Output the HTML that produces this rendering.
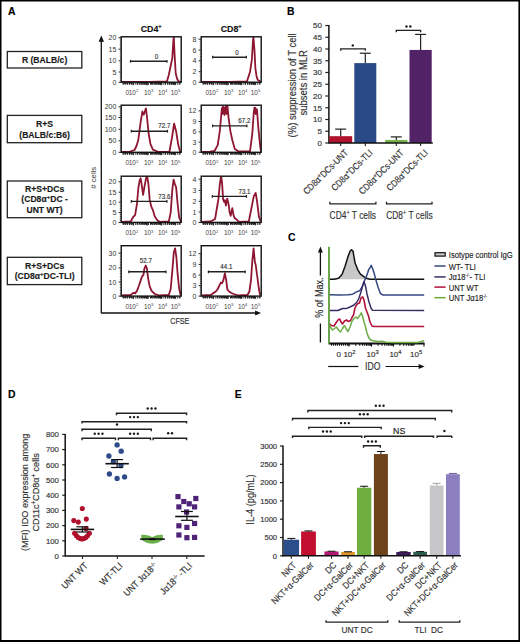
<!DOCTYPE html><html><head><meta charset="utf-8"><title>Figure</title>
<style>html,body{margin:0;padding:0;background:#fff;overflow:hidden}svg{display:block}text{font-family:"Liberation Sans",sans-serif;stroke:#333;stroke-width:0.16px;paint-order:stroke}text.ns{stroke:none}</style></head><body>
<svg width="520" height="642" viewBox="0 0 520 642">
<rect x="0" y="0" width="520" height="642" fill="#fff"/>
<path d="M0.7,0.7 H519.2 V640.8 H0.7 Z" fill="none" stroke="#000" stroke-width="1.6"/>
<line x1="0.00" y1="641.00" x2="520.00" y2="641.00" stroke="#000" stroke-width="2.2" />
<text x="8.00" y="14.60" font-size="10.4" text-anchor="start" font-weight="bold" fill="#000" >A</text>
<text x="287.00" y="15.20" font-size="10.4" text-anchor="start" font-weight="bold" fill="#000" >B</text>
<text x="288.00" y="241.30" font-size="10.4" text-anchor="start" font-weight="bold" fill="#000" >C</text>
<text x="8.00" y="398.20" font-size="10.4" text-anchor="start" font-weight="bold" fill="#000" >D</text>
<text x="234.80" y="398.30" font-size="10.4" text-anchor="start" font-weight="bold" fill="#000" >E</text>
<rect x="7.30" y="51.50" width="74.50" height="16.50" fill="none" stroke="#222" stroke-width="1.3" />
<text x="44.60" y="62.85" font-size="8.6" text-anchor="middle" font-weight="bold" fill="#1a1a1a" >R (BALB/c)</text>
<rect x="7.30" y="115.40" width="74.50" height="27.30" fill="none" stroke="#222" stroke-width="1.3" />
<text x="44.60" y="126.80" font-size="8.6" text-anchor="middle" font-weight="bold" fill="#1a1a1a" >R+S</text>
<text x="44.60" y="137.50" font-size="8.6" text-anchor="middle" font-weight="bold" fill="#1a1a1a" >(BALB/c:B6)</text>
<rect x="7.30" y="181.00" width="74.50" height="36.70" fill="none" stroke="#222" stroke-width="1.3" />
<text x="44.60" y="191.75" font-size="8.6" text-anchor="middle" font-weight="bold" fill="#1a1a1a" >R+S+DCs</text>
<text x="44.60" y="202.45" font-size="8.6" text-anchor="middle" font-weight="bold" fill="#1a1a1a" >(CD8&#945;<tspan font-size="6" dy="-3.3">+</tspan><tspan dy="3.3">DC -</tspan></text>
<text x="44.60" y="213.15" font-size="8.6" text-anchor="middle" font-weight="bold" fill="#1a1a1a" >UNT WT)</text>
<rect x="7.30" y="257.30" width="74.50" height="27.30" fill="none" stroke="#222" stroke-width="1.3" />
<text x="44.60" y="268.70" font-size="8.6" text-anchor="middle" font-weight="bold" fill="#1a1a1a" >R+S+DCs</text>
<text x="44.60" y="279.40" font-size="8.6" text-anchor="middle" font-weight="bold" fill="#1a1a1a" >(CD8&#945;<tspan font-size="6" dy="-3.3">+</tspan><tspan dy="3.3">DC-TLI)</tspan></text>
<clipPath id="cl00"><rect x="121.2" y="36.8" width="60" height="45.400000000000006"/></clipPath>
<polyline points="121.50,82.00 150.00,82.00 166.90,81.50 168.80,75.00 170.70,65.70 172.30,58.10 173.40,40.00 173.80,37.00 174.50,53.00 175.70,73.30 177.00,78.50 178.30,81.00 181.00,82.00" fill="none" stroke="#8e1631" stroke-width="1.8" stroke-linejoin="round" clip-path="url(#cl00)"/>
<rect x="121.20" y="36.80" width="60.00" height="45.40" fill="none" stroke="#111" stroke-width="1.4" />
<line x1="118.60" y1="37.70" x2="121.20" y2="37.70" stroke="#222" stroke-width="1.0" />
<text x="116.40" y="40.20" font-size="7" text-anchor="end" font-weight="normal" fill="#333" class="ns">20</text>
<line x1="118.60" y1="49.20" x2="121.20" y2="49.20" stroke="#222" stroke-width="1.0" />
<text x="116.40" y="51.70" font-size="7" text-anchor="end" font-weight="normal" fill="#333" class="ns">15</text>
<line x1="118.60" y1="60.80" x2="121.20" y2="60.80" stroke="#222" stroke-width="1.0" />
<text x="116.40" y="63.30" font-size="7" text-anchor="end" font-weight="normal" fill="#333" class="ns">10</text>
<line x1="118.60" y1="72.00" x2="121.20" y2="72.00" stroke="#222" stroke-width="1.0" />
<text x="116.40" y="74.50" font-size="7" text-anchor="end" font-weight="normal" fill="#333" class="ns">5</text>
<line x1="118.60" y1="82.30" x2="121.20" y2="82.30" stroke="#222" stroke-width="1.0" />
<text x="116.40" y="84.80" font-size="7" text-anchor="end" font-weight="normal" fill="#333" class="ns">0</text>
<line x1="119.80" y1="40.00" x2="121.20" y2="40.00" stroke="#333" stroke-width="0.8" />
<line x1="119.80" y1="42.30" x2="121.20" y2="42.30" stroke="#333" stroke-width="0.8" />
<line x1="119.80" y1="44.60" x2="121.20" y2="44.60" stroke="#333" stroke-width="0.8" />
<line x1="119.80" y1="46.90" x2="121.20" y2="46.90" stroke="#333" stroke-width="0.8" />
<line x1="119.80" y1="51.52" x2="121.20" y2="51.52" stroke="#333" stroke-width="0.8" />
<line x1="119.80" y1="53.84" x2="121.20" y2="53.84" stroke="#333" stroke-width="0.8" />
<line x1="119.80" y1="56.16" x2="121.20" y2="56.16" stroke="#333" stroke-width="0.8" />
<line x1="119.80" y1="58.48" x2="121.20" y2="58.48" stroke="#333" stroke-width="0.8" />
<line x1="119.80" y1="63.04" x2="121.20" y2="63.04" stroke="#333" stroke-width="0.8" />
<line x1="119.80" y1="65.28" x2="121.20" y2="65.28" stroke="#333" stroke-width="0.8" />
<line x1="119.80" y1="67.52" x2="121.20" y2="67.52" stroke="#333" stroke-width="0.8" />
<line x1="119.80" y1="69.76" x2="121.20" y2="69.76" stroke="#333" stroke-width="0.8" />
<line x1="119.80" y1="74.06" x2="121.20" y2="74.06" stroke="#333" stroke-width="0.8" />
<line x1="119.80" y1="76.12" x2="121.20" y2="76.12" stroke="#333" stroke-width="0.8" />
<line x1="119.80" y1="78.18" x2="121.20" y2="78.18" stroke="#333" stroke-width="0.8" />
<line x1="119.80" y1="80.24" x2="121.20" y2="80.24" stroke="#333" stroke-width="0.8" />
<line x1="133.20" y1="82.20" x2="133.20" y2="85.20" stroke="#111" stroke-width="1.1" />
<line x1="137.41" y1="82.20" x2="137.41" y2="84.40" stroke="#111" stroke-width="1.1" />
<line x1="139.88" y1="82.20" x2="139.88" y2="84.40" stroke="#111" stroke-width="1.1" />
<line x1="141.63" y1="82.20" x2="141.63" y2="84.40" stroke="#111" stroke-width="1.1" />
<line x1="142.99" y1="82.20" x2="142.99" y2="84.40" stroke="#111" stroke-width="1.1" />
<line x1="144.09" y1="82.20" x2="144.09" y2="84.40" stroke="#111" stroke-width="1.1" />
<line x1="145.03" y1="82.20" x2="145.03" y2="84.40" stroke="#111" stroke-width="1.1" />
<line x1="145.84" y1="82.20" x2="145.84" y2="84.40" stroke="#111" stroke-width="1.1" />
<line x1="146.56" y1="82.20" x2="146.56" y2="84.40" stroke="#111" stroke-width="1.1" />
<line x1="147.20" y1="82.20" x2="147.20" y2="85.20" stroke="#111" stroke-width="1.1" />
<line x1="151.41" y1="82.20" x2="151.41" y2="84.40" stroke="#111" stroke-width="1.1" />
<line x1="153.88" y1="82.20" x2="153.88" y2="84.40" stroke="#111" stroke-width="1.1" />
<line x1="155.63" y1="82.20" x2="155.63" y2="84.40" stroke="#111" stroke-width="1.1" />
<line x1="156.99" y1="82.20" x2="156.99" y2="84.40" stroke="#111" stroke-width="1.1" />
<line x1="158.09" y1="82.20" x2="158.09" y2="84.40" stroke="#111" stroke-width="1.1" />
<line x1="159.03" y1="82.20" x2="159.03" y2="84.40" stroke="#111" stroke-width="1.1" />
<line x1="159.84" y1="82.20" x2="159.84" y2="84.40" stroke="#111" stroke-width="1.1" />
<line x1="160.56" y1="82.20" x2="160.56" y2="84.40" stroke="#111" stroke-width="1.1" />
<line x1="161.20" y1="82.20" x2="161.20" y2="85.20" stroke="#111" stroke-width="1.1" />
<line x1="165.41" y1="82.20" x2="165.41" y2="84.40" stroke="#111" stroke-width="1.1" />
<line x1="167.88" y1="82.20" x2="167.88" y2="84.40" stroke="#111" stroke-width="1.1" />
<line x1="169.63" y1="82.20" x2="169.63" y2="84.40" stroke="#111" stroke-width="1.1" />
<line x1="170.99" y1="82.20" x2="170.99" y2="84.40" stroke="#111" stroke-width="1.1" />
<line x1="172.09" y1="82.20" x2="172.09" y2="84.40" stroke="#111" stroke-width="1.1" />
<line x1="173.03" y1="82.20" x2="173.03" y2="84.40" stroke="#111" stroke-width="1.1" />
<line x1="173.84" y1="82.20" x2="173.84" y2="84.40" stroke="#111" stroke-width="1.1" />
<line x1="174.56" y1="82.20" x2="174.56" y2="84.40" stroke="#111" stroke-width="1.1" />
<line x1="123.20" y1="82.20" x2="123.20" y2="84.20" stroke="#222" stroke-width="1.0" />
<line x1="124.70" y1="82.20" x2="124.70" y2="84.20" stroke="#222" stroke-width="1.0" />
<line x1="126.20" y1="82.20" x2="126.20" y2="84.20" stroke="#222" stroke-width="1.0" />
<line x1="127.70" y1="82.20" x2="127.70" y2="84.20" stroke="#222" stroke-width="1.0" />
<line x1="129.20" y1="82.20" x2="129.20" y2="84.20" stroke="#222" stroke-width="1.0" />
<line x1="130.70" y1="82.20" x2="130.70" y2="84.20" stroke="#222" stroke-width="1.0" />
<line x1="132.20" y1="82.20" x2="132.20" y2="84.20" stroke="#222" stroke-width="1.0" />
<line x1="175.20" y1="82.20" x2="175.20" y2="85.20" stroke="#222" stroke-width="1.0" />
<line x1="179.70" y1="82.20" x2="179.70" y2="84.20" stroke="#222" stroke-width="1.0" />
<text x="127.40" y="95.20" font-size="6.4" text-anchor="middle" font-weight="normal" fill="#444" class="ns">0</text>
<line x1="122.70" y1="83.60" x2="180.70" y2="83.60" stroke="#222" stroke-width="2.2" stroke-dasharray="1 1.1"/>
<text x="128.80" y="95.20" font-size="6.4" fill="#444" class="ns">10<tspan font-size="4.2" dy="-2.8">2</tspan></text>
<text x="144.00" y="95.20" font-size="6.4" fill="#444" class="ns">10<tspan font-size="4.2" dy="-2.8">3</tspan></text>
<text x="158.00" y="95.20" font-size="6.4" fill="#444" class="ns">10<tspan font-size="4.2" dy="-2.8">4</tspan></text>
<text x="170.80" y="95.20" font-size="6.4" fill="#444" class="ns">10<tspan font-size="4.2" dy="-2.8">5</tspan></text>
<line x1="130.50" y1="61.30" x2="167.00" y2="61.30" stroke="#222" stroke-width="1.4" />
<line x1="130.50" y1="59.90" x2="130.50" y2="62.70" stroke="#222" stroke-width="1.2" />
<line x1="167.00" y1="59.90" x2="167.00" y2="62.70" stroke="#222" stroke-width="1.2" />
<text font-size="7.4" fill="#333" text-anchor="middle" transform="translate(156.40 58.50) scale(0.84 1)">0</text>
<clipPath id="cl01"><rect x="201.2" y="36.8" width="60" height="45.400000000000006"/></clipPath>
<polyline points="201.50,82.00 230.00,82.00 246.90,81.50 250.00,72.00 251.90,59.40 253.00,40.00 253.40,37.00 254.50,50.50 255.40,68.30 256.50,76.00 257.60,79.70 261.00,82.00" fill="none" stroke="#8e1631" stroke-width="1.8" stroke-linejoin="round" clip-path="url(#cl01)"/>
<rect x="201.20" y="36.80" width="60.00" height="45.40" fill="none" stroke="#111" stroke-width="1.4" />
<line x1="198.60" y1="39.20" x2="201.20" y2="39.20" stroke="#222" stroke-width="1.0" />
<text x="196.40" y="41.70" font-size="7" text-anchor="end" font-weight="normal" fill="#333" class="ns">8</text>
<line x1="198.60" y1="50.10" x2="201.20" y2="50.10" stroke="#222" stroke-width="1.0" />
<text x="196.40" y="52.60" font-size="7" text-anchor="end" font-weight="normal" fill="#333" class="ns">6</text>
<line x1="198.60" y1="60.80" x2="201.20" y2="60.80" stroke="#222" stroke-width="1.0" />
<text x="196.40" y="63.30" font-size="7" text-anchor="end" font-weight="normal" fill="#333" class="ns">4</text>
<line x1="198.60" y1="71.70" x2="201.20" y2="71.70" stroke="#222" stroke-width="1.0" />
<text x="196.40" y="74.20" font-size="7" text-anchor="end" font-weight="normal" fill="#333" class="ns">2</text>
<line x1="198.60" y1="82.20" x2="201.20" y2="82.20" stroke="#222" stroke-width="1.0" />
<text x="196.40" y="84.70" font-size="7" text-anchor="end" font-weight="normal" fill="#333" class="ns">0</text>
<line x1="199.80" y1="41.38" x2="201.20" y2="41.38" stroke="#333" stroke-width="0.8" />
<line x1="199.80" y1="43.56" x2="201.20" y2="43.56" stroke="#333" stroke-width="0.8" />
<line x1="199.80" y1="45.74" x2="201.20" y2="45.74" stroke="#333" stroke-width="0.8" />
<line x1="199.80" y1="47.92" x2="201.20" y2="47.92" stroke="#333" stroke-width="0.8" />
<line x1="199.80" y1="52.24" x2="201.20" y2="52.24" stroke="#333" stroke-width="0.8" />
<line x1="199.80" y1="54.38" x2="201.20" y2="54.38" stroke="#333" stroke-width="0.8" />
<line x1="199.80" y1="56.52" x2="201.20" y2="56.52" stroke="#333" stroke-width="0.8" />
<line x1="199.80" y1="58.66" x2="201.20" y2="58.66" stroke="#333" stroke-width="0.8" />
<line x1="199.80" y1="62.98" x2="201.20" y2="62.98" stroke="#333" stroke-width="0.8" />
<line x1="199.80" y1="65.16" x2="201.20" y2="65.16" stroke="#333" stroke-width="0.8" />
<line x1="199.80" y1="67.34" x2="201.20" y2="67.34" stroke="#333" stroke-width="0.8" />
<line x1="199.80" y1="69.52" x2="201.20" y2="69.52" stroke="#333" stroke-width="0.8" />
<line x1="199.80" y1="73.80" x2="201.20" y2="73.80" stroke="#333" stroke-width="0.8" />
<line x1="199.80" y1="75.90" x2="201.20" y2="75.90" stroke="#333" stroke-width="0.8" />
<line x1="199.80" y1="78.00" x2="201.20" y2="78.00" stroke="#333" stroke-width="0.8" />
<line x1="199.80" y1="80.10" x2="201.20" y2="80.10" stroke="#333" stroke-width="0.8" />
<line x1="213.20" y1="82.20" x2="213.20" y2="85.20" stroke="#111" stroke-width="1.1" />
<line x1="217.41" y1="82.20" x2="217.41" y2="84.40" stroke="#111" stroke-width="1.1" />
<line x1="219.88" y1="82.20" x2="219.88" y2="84.40" stroke="#111" stroke-width="1.1" />
<line x1="221.63" y1="82.20" x2="221.63" y2="84.40" stroke="#111" stroke-width="1.1" />
<line x1="222.99" y1="82.20" x2="222.99" y2="84.40" stroke="#111" stroke-width="1.1" />
<line x1="224.09" y1="82.20" x2="224.09" y2="84.40" stroke="#111" stroke-width="1.1" />
<line x1="225.03" y1="82.20" x2="225.03" y2="84.40" stroke="#111" stroke-width="1.1" />
<line x1="225.84" y1="82.20" x2="225.84" y2="84.40" stroke="#111" stroke-width="1.1" />
<line x1="226.56" y1="82.20" x2="226.56" y2="84.40" stroke="#111" stroke-width="1.1" />
<line x1="227.20" y1="82.20" x2="227.20" y2="85.20" stroke="#111" stroke-width="1.1" />
<line x1="231.41" y1="82.20" x2="231.41" y2="84.40" stroke="#111" stroke-width="1.1" />
<line x1="233.88" y1="82.20" x2="233.88" y2="84.40" stroke="#111" stroke-width="1.1" />
<line x1="235.63" y1="82.20" x2="235.63" y2="84.40" stroke="#111" stroke-width="1.1" />
<line x1="236.99" y1="82.20" x2="236.99" y2="84.40" stroke="#111" stroke-width="1.1" />
<line x1="238.09" y1="82.20" x2="238.09" y2="84.40" stroke="#111" stroke-width="1.1" />
<line x1="239.03" y1="82.20" x2="239.03" y2="84.40" stroke="#111" stroke-width="1.1" />
<line x1="239.84" y1="82.20" x2="239.84" y2="84.40" stroke="#111" stroke-width="1.1" />
<line x1="240.56" y1="82.20" x2="240.56" y2="84.40" stroke="#111" stroke-width="1.1" />
<line x1="241.20" y1="82.20" x2="241.20" y2="85.20" stroke="#111" stroke-width="1.1" />
<line x1="245.41" y1="82.20" x2="245.41" y2="84.40" stroke="#111" stroke-width="1.1" />
<line x1="247.88" y1="82.20" x2="247.88" y2="84.40" stroke="#111" stroke-width="1.1" />
<line x1="249.63" y1="82.20" x2="249.63" y2="84.40" stroke="#111" stroke-width="1.1" />
<line x1="250.99" y1="82.20" x2="250.99" y2="84.40" stroke="#111" stroke-width="1.1" />
<line x1="252.09" y1="82.20" x2="252.09" y2="84.40" stroke="#111" stroke-width="1.1" />
<line x1="253.03" y1="82.20" x2="253.03" y2="84.40" stroke="#111" stroke-width="1.1" />
<line x1="253.84" y1="82.20" x2="253.84" y2="84.40" stroke="#111" stroke-width="1.1" />
<line x1="254.56" y1="82.20" x2="254.56" y2="84.40" stroke="#111" stroke-width="1.1" />
<line x1="203.20" y1="82.20" x2="203.20" y2="84.20" stroke="#222" stroke-width="1.0" />
<line x1="204.70" y1="82.20" x2="204.70" y2="84.20" stroke="#222" stroke-width="1.0" />
<line x1="206.20" y1="82.20" x2="206.20" y2="84.20" stroke="#222" stroke-width="1.0" />
<line x1="207.70" y1="82.20" x2="207.70" y2="84.20" stroke="#222" stroke-width="1.0" />
<line x1="209.20" y1="82.20" x2="209.20" y2="84.20" stroke="#222" stroke-width="1.0" />
<line x1="210.70" y1="82.20" x2="210.70" y2="84.20" stroke="#222" stroke-width="1.0" />
<line x1="212.20" y1="82.20" x2="212.20" y2="84.20" stroke="#222" stroke-width="1.0" />
<line x1="255.20" y1="82.20" x2="255.20" y2="85.20" stroke="#222" stroke-width="1.0" />
<line x1="259.70" y1="82.20" x2="259.70" y2="84.20" stroke="#222" stroke-width="1.0" />
<text x="207.40" y="95.20" font-size="6.4" text-anchor="middle" font-weight="normal" fill="#444" class="ns">0</text>
<line x1="202.70" y1="83.60" x2="260.70" y2="83.60" stroke="#222" stroke-width="2.2" stroke-dasharray="1 1.1"/>
<text x="208.80" y="95.20" font-size="6.4" fill="#444" class="ns">10<tspan font-size="4.2" dy="-2.8">2</tspan></text>
<text x="224.00" y="95.20" font-size="6.4" fill="#444" class="ns">10<tspan font-size="4.2" dy="-2.8">3</tspan></text>
<text x="238.00" y="95.20" font-size="6.4" fill="#444" class="ns">10<tspan font-size="4.2" dy="-2.8">4</tspan></text>
<text x="250.80" y="95.20" font-size="6.4" fill="#444" class="ns">10<tspan font-size="4.2" dy="-2.8">5</tspan></text>
<line x1="212.60" y1="57.20" x2="246.40" y2="57.20" stroke="#222" stroke-width="1.4" />
<line x1="212.60" y1="55.80" x2="212.60" y2="58.60" stroke="#222" stroke-width="1.2" />
<line x1="246.40" y1="55.80" x2="246.40" y2="58.60" stroke="#222" stroke-width="1.2" />
<text font-size="7.4" fill="#333" text-anchor="middle" transform="translate(237.00 54.50) scale(0.84 1)">0</text>
<clipPath id="cl10"><rect x="121.2" y="105.2" width="60" height="47.10000000000001"/></clipPath>
<polyline points="121.50,152.00 130.00,151.60 134.50,150.00 136.50,146.00 138.30,140.00 140.60,122.30 142.40,111.50 143.80,114.70 144.60,112.20 145.90,108.30 146.90,116.00 148.50,132.50 150.40,143.90 152.90,149.60 158.60,152.00 169.40,152.00 172.00,137.50 174.10,123.60 176.10,131.20 178.30,145.10 180.20,152.00" fill="none" stroke="#8e1631" stroke-width="1.8" stroke-linejoin="round" clip-path="url(#cl10)"/>
<rect x="121.20" y="105.20" width="60.00" height="47.10" fill="none" stroke="#111" stroke-width="1.4" />
<line x1="118.60" y1="106.80" x2="121.20" y2="106.80" stroke="#222" stroke-width="1.0" />
<text x="116.40" y="109.30" font-size="7" text-anchor="end" font-weight="normal" fill="#333" class="ns">200</text>
<line x1="118.60" y1="117.50" x2="121.20" y2="117.50" stroke="#222" stroke-width="1.0" />
<text x="116.40" y="120.00" font-size="7" text-anchor="end" font-weight="normal" fill="#333" class="ns">150</text>
<line x1="118.60" y1="129.30" x2="121.20" y2="129.30" stroke="#222" stroke-width="1.0" />
<text x="116.40" y="131.80" font-size="7" text-anchor="end" font-weight="normal" fill="#333" class="ns">100</text>
<line x1="118.60" y1="140.80" x2="121.20" y2="140.80" stroke="#222" stroke-width="1.0" />
<text x="116.40" y="143.30" font-size="7" text-anchor="end" font-weight="normal" fill="#333" class="ns">50</text>
<line x1="118.60" y1="152.30" x2="121.20" y2="152.30" stroke="#222" stroke-width="1.0" />
<text x="116.40" y="154.80" font-size="7" text-anchor="end" font-weight="normal" fill="#333" class="ns">0</text>
<line x1="119.80" y1="108.94" x2="121.20" y2="108.94" stroke="#333" stroke-width="0.8" />
<line x1="119.80" y1="111.08" x2="121.20" y2="111.08" stroke="#333" stroke-width="0.8" />
<line x1="119.80" y1="113.22" x2="121.20" y2="113.22" stroke="#333" stroke-width="0.8" />
<line x1="119.80" y1="115.36" x2="121.20" y2="115.36" stroke="#333" stroke-width="0.8" />
<line x1="119.80" y1="119.86" x2="121.20" y2="119.86" stroke="#333" stroke-width="0.8" />
<line x1="119.80" y1="122.22" x2="121.20" y2="122.22" stroke="#333" stroke-width="0.8" />
<line x1="119.80" y1="124.58" x2="121.20" y2="124.58" stroke="#333" stroke-width="0.8" />
<line x1="119.80" y1="126.94" x2="121.20" y2="126.94" stroke="#333" stroke-width="0.8" />
<line x1="119.80" y1="131.60" x2="121.20" y2="131.60" stroke="#333" stroke-width="0.8" />
<line x1="119.80" y1="133.90" x2="121.20" y2="133.90" stroke="#333" stroke-width="0.8" />
<line x1="119.80" y1="136.20" x2="121.20" y2="136.20" stroke="#333" stroke-width="0.8" />
<line x1="119.80" y1="138.50" x2="121.20" y2="138.50" stroke="#333" stroke-width="0.8" />
<line x1="119.80" y1="143.10" x2="121.20" y2="143.10" stroke="#333" stroke-width="0.8" />
<line x1="119.80" y1="145.40" x2="121.20" y2="145.40" stroke="#333" stroke-width="0.8" />
<line x1="119.80" y1="147.70" x2="121.20" y2="147.70" stroke="#333" stroke-width="0.8" />
<line x1="119.80" y1="150.00" x2="121.20" y2="150.00" stroke="#333" stroke-width="0.8" />
<line x1="133.20" y1="152.30" x2="133.20" y2="155.30" stroke="#111" stroke-width="1.1" />
<line x1="137.41" y1="152.30" x2="137.41" y2="154.50" stroke="#111" stroke-width="1.1" />
<line x1="139.88" y1="152.30" x2="139.88" y2="154.50" stroke="#111" stroke-width="1.1" />
<line x1="141.63" y1="152.30" x2="141.63" y2="154.50" stroke="#111" stroke-width="1.1" />
<line x1="142.99" y1="152.30" x2="142.99" y2="154.50" stroke="#111" stroke-width="1.1" />
<line x1="144.09" y1="152.30" x2="144.09" y2="154.50" stroke="#111" stroke-width="1.1" />
<line x1="145.03" y1="152.30" x2="145.03" y2="154.50" stroke="#111" stroke-width="1.1" />
<line x1="145.84" y1="152.30" x2="145.84" y2="154.50" stroke="#111" stroke-width="1.1" />
<line x1="146.56" y1="152.30" x2="146.56" y2="154.50" stroke="#111" stroke-width="1.1" />
<line x1="147.20" y1="152.30" x2="147.20" y2="155.30" stroke="#111" stroke-width="1.1" />
<line x1="151.41" y1="152.30" x2="151.41" y2="154.50" stroke="#111" stroke-width="1.1" />
<line x1="153.88" y1="152.30" x2="153.88" y2="154.50" stroke="#111" stroke-width="1.1" />
<line x1="155.63" y1="152.30" x2="155.63" y2="154.50" stroke="#111" stroke-width="1.1" />
<line x1="156.99" y1="152.30" x2="156.99" y2="154.50" stroke="#111" stroke-width="1.1" />
<line x1="158.09" y1="152.30" x2="158.09" y2="154.50" stroke="#111" stroke-width="1.1" />
<line x1="159.03" y1="152.30" x2="159.03" y2="154.50" stroke="#111" stroke-width="1.1" />
<line x1="159.84" y1="152.30" x2="159.84" y2="154.50" stroke="#111" stroke-width="1.1" />
<line x1="160.56" y1="152.30" x2="160.56" y2="154.50" stroke="#111" stroke-width="1.1" />
<line x1="161.20" y1="152.30" x2="161.20" y2="155.30" stroke="#111" stroke-width="1.1" />
<line x1="165.41" y1="152.30" x2="165.41" y2="154.50" stroke="#111" stroke-width="1.1" />
<line x1="167.88" y1="152.30" x2="167.88" y2="154.50" stroke="#111" stroke-width="1.1" />
<line x1="169.63" y1="152.30" x2="169.63" y2="154.50" stroke="#111" stroke-width="1.1" />
<line x1="170.99" y1="152.30" x2="170.99" y2="154.50" stroke="#111" stroke-width="1.1" />
<line x1="172.09" y1="152.30" x2="172.09" y2="154.50" stroke="#111" stroke-width="1.1" />
<line x1="173.03" y1="152.30" x2="173.03" y2="154.50" stroke="#111" stroke-width="1.1" />
<line x1="173.84" y1="152.30" x2="173.84" y2="154.50" stroke="#111" stroke-width="1.1" />
<line x1="174.56" y1="152.30" x2="174.56" y2="154.50" stroke="#111" stroke-width="1.1" />
<line x1="123.20" y1="152.30" x2="123.20" y2="154.30" stroke="#222" stroke-width="1.0" />
<line x1="124.70" y1="152.30" x2="124.70" y2="154.30" stroke="#222" stroke-width="1.0" />
<line x1="126.20" y1="152.30" x2="126.20" y2="154.30" stroke="#222" stroke-width="1.0" />
<line x1="127.70" y1="152.30" x2="127.70" y2="154.30" stroke="#222" stroke-width="1.0" />
<line x1="129.20" y1="152.30" x2="129.20" y2="154.30" stroke="#222" stroke-width="1.0" />
<line x1="130.70" y1="152.30" x2="130.70" y2="154.30" stroke="#222" stroke-width="1.0" />
<line x1="132.20" y1="152.30" x2="132.20" y2="154.30" stroke="#222" stroke-width="1.0" />
<line x1="175.20" y1="152.30" x2="175.20" y2="155.30" stroke="#222" stroke-width="1.0" />
<line x1="179.70" y1="152.30" x2="179.70" y2="154.30" stroke="#222" stroke-width="1.0" />
<text x="127.40" y="165.30" font-size="6.4" text-anchor="middle" font-weight="normal" fill="#444" class="ns">0</text>
<line x1="122.70" y1="153.70" x2="180.70" y2="153.70" stroke="#222" stroke-width="2.2" stroke-dasharray="1 1.1"/>
<text x="128.80" y="165.30" font-size="6.4" fill="#444" class="ns">10<tspan font-size="4.2" dy="-2.8">2</tspan></text>
<text x="144.00" y="165.30" font-size="6.4" fill="#444" class="ns">10<tspan font-size="4.2" dy="-2.8">3</tspan></text>
<text x="158.00" y="165.30" font-size="6.4" fill="#444" class="ns">10<tspan font-size="4.2" dy="-2.8">4</tspan></text>
<text x="170.80" y="165.30" font-size="6.4" fill="#444" class="ns">10<tspan font-size="4.2" dy="-2.8">5</tspan></text>
<line x1="131.30" y1="131.20" x2="167.50" y2="131.20" stroke="#222" stroke-width="1.4" />
<line x1="131.30" y1="129.80" x2="131.30" y2="132.60" stroke="#222" stroke-width="1.2" />
<line x1="167.50" y1="129.80" x2="167.50" y2="132.60" stroke="#222" stroke-width="1.2" />
<text font-size="7.4" fill="#333" text-anchor="middle" transform="translate(164.40 128.20) scale(0.84 1)">72.7</text>
<clipPath id="cl11"><rect x="201.2" y="105.2" width="60" height="47.10000000000001"/></clipPath>
<polyline points="201.50,152.00 210.00,151.60 214.50,151.00 217.70,145.10 219.80,131.20 221.00,118.00 221.50,112.00 222.00,108.00 222.50,114.00 223.00,106.50 223.50,113.00 224.00,108.00 224.50,115.00 225.00,107.50 225.50,112.00 226.00,106.00 226.50,114.00 227.00,105.00 227.40,105.00 228.00,112.00 228.50,117.20 230.40,131.20 232.30,140.00 234.80,149.00 238.60,151.50 250.00,151.50 252.30,133.70 253.80,112.00 254.50,107.70 255.00,113.00 255.40,108.00 255.80,114.00 256.20,109.00 256.60,112.00 257.00,109.60 257.60,118.00 258.30,127.40 260.20,146.40 261.00,151.50" fill="none" stroke="#8e1631" stroke-width="1.8" stroke-linejoin="round" clip-path="url(#cl11)"/>
<rect x="201.20" y="105.20" width="60.00" height="47.10" fill="none" stroke="#111" stroke-width="1.4" />
<line x1="198.60" y1="110.90" x2="201.20" y2="110.90" stroke="#222" stroke-width="1.0" />
<text x="196.40" y="113.40" font-size="7" text-anchor="end" font-weight="normal" fill="#333" class="ns">12</text>
<line x1="198.60" y1="121.50" x2="201.20" y2="121.50" stroke="#222" stroke-width="1.0" />
<text x="196.40" y="124.00" font-size="7" text-anchor="end" font-weight="normal" fill="#333" class="ns">9</text>
<line x1="198.60" y1="131.90" x2="201.20" y2="131.90" stroke="#222" stroke-width="1.0" />
<text x="196.40" y="134.40" font-size="7" text-anchor="end" font-weight="normal" fill="#333" class="ns">6</text>
<line x1="198.60" y1="142.20" x2="201.20" y2="142.20" stroke="#222" stroke-width="1.0" />
<text x="196.40" y="144.70" font-size="7" text-anchor="end" font-weight="normal" fill="#333" class="ns">3</text>
<line x1="198.60" y1="152.20" x2="201.20" y2="152.20" stroke="#222" stroke-width="1.0" />
<text x="196.40" y="154.70" font-size="7" text-anchor="end" font-weight="normal" fill="#333" class="ns">0</text>
<line x1="199.80" y1="113.02" x2="201.20" y2="113.02" stroke="#333" stroke-width="0.8" />
<line x1="199.80" y1="115.14" x2="201.20" y2="115.14" stroke="#333" stroke-width="0.8" />
<line x1="199.80" y1="117.26" x2="201.20" y2="117.26" stroke="#333" stroke-width="0.8" />
<line x1="199.80" y1="119.38" x2="201.20" y2="119.38" stroke="#333" stroke-width="0.8" />
<line x1="199.80" y1="123.58" x2="201.20" y2="123.58" stroke="#333" stroke-width="0.8" />
<line x1="199.80" y1="125.66" x2="201.20" y2="125.66" stroke="#333" stroke-width="0.8" />
<line x1="199.80" y1="127.74" x2="201.20" y2="127.74" stroke="#333" stroke-width="0.8" />
<line x1="199.80" y1="129.82" x2="201.20" y2="129.82" stroke="#333" stroke-width="0.8" />
<line x1="199.80" y1="133.96" x2="201.20" y2="133.96" stroke="#333" stroke-width="0.8" />
<line x1="199.80" y1="136.02" x2="201.20" y2="136.02" stroke="#333" stroke-width="0.8" />
<line x1="199.80" y1="138.08" x2="201.20" y2="138.08" stroke="#333" stroke-width="0.8" />
<line x1="199.80" y1="140.14" x2="201.20" y2="140.14" stroke="#333" stroke-width="0.8" />
<line x1="199.80" y1="144.20" x2="201.20" y2="144.20" stroke="#333" stroke-width="0.8" />
<line x1="199.80" y1="146.20" x2="201.20" y2="146.20" stroke="#333" stroke-width="0.8" />
<line x1="199.80" y1="148.20" x2="201.20" y2="148.20" stroke="#333" stroke-width="0.8" />
<line x1="199.80" y1="150.20" x2="201.20" y2="150.20" stroke="#333" stroke-width="0.8" />
<line x1="213.20" y1="152.30" x2="213.20" y2="155.30" stroke="#111" stroke-width="1.1" />
<line x1="217.41" y1="152.30" x2="217.41" y2="154.50" stroke="#111" stroke-width="1.1" />
<line x1="219.88" y1="152.30" x2="219.88" y2="154.50" stroke="#111" stroke-width="1.1" />
<line x1="221.63" y1="152.30" x2="221.63" y2="154.50" stroke="#111" stroke-width="1.1" />
<line x1="222.99" y1="152.30" x2="222.99" y2="154.50" stroke="#111" stroke-width="1.1" />
<line x1="224.09" y1="152.30" x2="224.09" y2="154.50" stroke="#111" stroke-width="1.1" />
<line x1="225.03" y1="152.30" x2="225.03" y2="154.50" stroke="#111" stroke-width="1.1" />
<line x1="225.84" y1="152.30" x2="225.84" y2="154.50" stroke="#111" stroke-width="1.1" />
<line x1="226.56" y1="152.30" x2="226.56" y2="154.50" stroke="#111" stroke-width="1.1" />
<line x1="227.20" y1="152.30" x2="227.20" y2="155.30" stroke="#111" stroke-width="1.1" />
<line x1="231.41" y1="152.30" x2="231.41" y2="154.50" stroke="#111" stroke-width="1.1" />
<line x1="233.88" y1="152.30" x2="233.88" y2="154.50" stroke="#111" stroke-width="1.1" />
<line x1="235.63" y1="152.30" x2="235.63" y2="154.50" stroke="#111" stroke-width="1.1" />
<line x1="236.99" y1="152.30" x2="236.99" y2="154.50" stroke="#111" stroke-width="1.1" />
<line x1="238.09" y1="152.30" x2="238.09" y2="154.50" stroke="#111" stroke-width="1.1" />
<line x1="239.03" y1="152.30" x2="239.03" y2="154.50" stroke="#111" stroke-width="1.1" />
<line x1="239.84" y1="152.30" x2="239.84" y2="154.50" stroke="#111" stroke-width="1.1" />
<line x1="240.56" y1="152.30" x2="240.56" y2="154.50" stroke="#111" stroke-width="1.1" />
<line x1="241.20" y1="152.30" x2="241.20" y2="155.30" stroke="#111" stroke-width="1.1" />
<line x1="245.41" y1="152.30" x2="245.41" y2="154.50" stroke="#111" stroke-width="1.1" />
<line x1="247.88" y1="152.30" x2="247.88" y2="154.50" stroke="#111" stroke-width="1.1" />
<line x1="249.63" y1="152.30" x2="249.63" y2="154.50" stroke="#111" stroke-width="1.1" />
<line x1="250.99" y1="152.30" x2="250.99" y2="154.50" stroke="#111" stroke-width="1.1" />
<line x1="252.09" y1="152.30" x2="252.09" y2="154.50" stroke="#111" stroke-width="1.1" />
<line x1="253.03" y1="152.30" x2="253.03" y2="154.50" stroke="#111" stroke-width="1.1" />
<line x1="253.84" y1="152.30" x2="253.84" y2="154.50" stroke="#111" stroke-width="1.1" />
<line x1="254.56" y1="152.30" x2="254.56" y2="154.50" stroke="#111" stroke-width="1.1" />
<line x1="203.20" y1="152.30" x2="203.20" y2="154.30" stroke="#222" stroke-width="1.0" />
<line x1="204.70" y1="152.30" x2="204.70" y2="154.30" stroke="#222" stroke-width="1.0" />
<line x1="206.20" y1="152.30" x2="206.20" y2="154.30" stroke="#222" stroke-width="1.0" />
<line x1="207.70" y1="152.30" x2="207.70" y2="154.30" stroke="#222" stroke-width="1.0" />
<line x1="209.20" y1="152.30" x2="209.20" y2="154.30" stroke="#222" stroke-width="1.0" />
<line x1="210.70" y1="152.30" x2="210.70" y2="154.30" stroke="#222" stroke-width="1.0" />
<line x1="212.20" y1="152.30" x2="212.20" y2="154.30" stroke="#222" stroke-width="1.0" />
<line x1="255.20" y1="152.30" x2="255.20" y2="155.30" stroke="#222" stroke-width="1.0" />
<line x1="259.70" y1="152.30" x2="259.70" y2="154.30" stroke="#222" stroke-width="1.0" />
<text x="207.40" y="165.30" font-size="6.4" text-anchor="middle" font-weight="normal" fill="#444" class="ns">0</text>
<line x1="202.70" y1="153.70" x2="260.70" y2="153.70" stroke="#222" stroke-width="2.2" stroke-dasharray="1 1.1"/>
<text x="208.80" y="165.30" font-size="6.4" fill="#444" class="ns">10<tspan font-size="4.2" dy="-2.8">2</tspan></text>
<text x="224.00" y="165.30" font-size="6.4" fill="#444" class="ns">10<tspan font-size="4.2" dy="-2.8">3</tspan></text>
<text x="238.00" y="165.30" font-size="6.4" fill="#444" class="ns">10<tspan font-size="4.2" dy="-2.8">4</tspan></text>
<text x="250.80" y="165.30" font-size="6.4" fill="#444" class="ns">10<tspan font-size="4.2" dy="-2.8">5</tspan></text>
<line x1="212.60" y1="125.90" x2="246.90" y2="125.90" stroke="#222" stroke-width="1.4" />
<line x1="212.60" y1="124.50" x2="212.60" y2="127.30" stroke="#222" stroke-width="1.2" />
<line x1="246.90" y1="124.50" x2="246.90" y2="127.30" stroke="#222" stroke-width="1.2" />
<text font-size="7.4" fill="#333" text-anchor="middle" transform="translate(244.30 123.10) scale(0.84 1)">67.2</text>
<clipPath id="cl20"><rect x="121.2" y="176.2" width="60" height="46.20000000000002"/></clipPath>
<polyline points="121.50,222.00 130.70,221.50 133.20,217.00 135.10,215.10 137.00,203.70 138.30,188.50 139.60,180.90 140.60,178.30 141.50,183.40 143.10,194.80 144.60,186.00 146.20,177.70 147.20,176.40 148.50,184.70 149.70,199.90 151.20,206.30 152.90,210.10 154.80,216.40 157.30,220.20 159.90,222.00 168.80,221.50 170.70,212.60 172.30,189.80 173.60,179.60 174.90,184.00 176.10,187.20 177.60,203.70 179.20,217.70 180.20,219.60 181.00,222.00" fill="none" stroke="#8e1631" stroke-width="1.8" stroke-linejoin="round" clip-path="url(#cl20)"/>
<rect x="121.20" y="176.20" width="60.00" height="46.20" fill="none" stroke="#111" stroke-width="1.4" />
<line x1="118.60" y1="181.80" x2="121.20" y2="181.80" stroke="#222" stroke-width="1.0" />
<text x="116.40" y="184.30" font-size="7" text-anchor="end" font-weight="normal" fill="#333" class="ns">20</text>
<line x1="118.60" y1="192.20" x2="121.20" y2="192.20" stroke="#222" stroke-width="1.0" />
<text x="116.40" y="194.70" font-size="7" text-anchor="end" font-weight="normal" fill="#333" class="ns">15</text>
<line x1="118.60" y1="202.20" x2="121.20" y2="202.20" stroke="#222" stroke-width="1.0" />
<text x="116.40" y="204.70" font-size="7" text-anchor="end" font-weight="normal" fill="#333" class="ns">10</text>
<line x1="118.60" y1="212.60" x2="121.20" y2="212.60" stroke="#222" stroke-width="1.0" />
<text x="116.40" y="215.10" font-size="7" text-anchor="end" font-weight="normal" fill="#333" class="ns">5</text>
<line x1="118.60" y1="222.40" x2="121.20" y2="222.40" stroke="#222" stroke-width="1.0" />
<text x="116.40" y="224.90" font-size="7" text-anchor="end" font-weight="normal" fill="#333" class="ns">0</text>
<line x1="119.80" y1="183.88" x2="121.20" y2="183.88" stroke="#333" stroke-width="0.8" />
<line x1="119.80" y1="185.96" x2="121.20" y2="185.96" stroke="#333" stroke-width="0.8" />
<line x1="119.80" y1="188.04" x2="121.20" y2="188.04" stroke="#333" stroke-width="0.8" />
<line x1="119.80" y1="190.12" x2="121.20" y2="190.12" stroke="#333" stroke-width="0.8" />
<line x1="119.80" y1="194.20" x2="121.20" y2="194.20" stroke="#333" stroke-width="0.8" />
<line x1="119.80" y1="196.20" x2="121.20" y2="196.20" stroke="#333" stroke-width="0.8" />
<line x1="119.80" y1="198.20" x2="121.20" y2="198.20" stroke="#333" stroke-width="0.8" />
<line x1="119.80" y1="200.20" x2="121.20" y2="200.20" stroke="#333" stroke-width="0.8" />
<line x1="119.80" y1="204.28" x2="121.20" y2="204.28" stroke="#333" stroke-width="0.8" />
<line x1="119.80" y1="206.36" x2="121.20" y2="206.36" stroke="#333" stroke-width="0.8" />
<line x1="119.80" y1="208.44" x2="121.20" y2="208.44" stroke="#333" stroke-width="0.8" />
<line x1="119.80" y1="210.52" x2="121.20" y2="210.52" stroke="#333" stroke-width="0.8" />
<line x1="119.80" y1="214.56" x2="121.20" y2="214.56" stroke="#333" stroke-width="0.8" />
<line x1="119.80" y1="216.52" x2="121.20" y2="216.52" stroke="#333" stroke-width="0.8" />
<line x1="119.80" y1="218.48" x2="121.20" y2="218.48" stroke="#333" stroke-width="0.8" />
<line x1="119.80" y1="220.44" x2="121.20" y2="220.44" stroke="#333" stroke-width="0.8" />
<line x1="133.20" y1="222.40" x2="133.20" y2="225.40" stroke="#111" stroke-width="1.1" />
<line x1="137.41" y1="222.40" x2="137.41" y2="224.60" stroke="#111" stroke-width="1.1" />
<line x1="139.88" y1="222.40" x2="139.88" y2="224.60" stroke="#111" stroke-width="1.1" />
<line x1="141.63" y1="222.40" x2="141.63" y2="224.60" stroke="#111" stroke-width="1.1" />
<line x1="142.99" y1="222.40" x2="142.99" y2="224.60" stroke="#111" stroke-width="1.1" />
<line x1="144.09" y1="222.40" x2="144.09" y2="224.60" stroke="#111" stroke-width="1.1" />
<line x1="145.03" y1="222.40" x2="145.03" y2="224.60" stroke="#111" stroke-width="1.1" />
<line x1="145.84" y1="222.40" x2="145.84" y2="224.60" stroke="#111" stroke-width="1.1" />
<line x1="146.56" y1="222.40" x2="146.56" y2="224.60" stroke="#111" stroke-width="1.1" />
<line x1="147.20" y1="222.40" x2="147.20" y2="225.40" stroke="#111" stroke-width="1.1" />
<line x1="151.41" y1="222.40" x2="151.41" y2="224.60" stroke="#111" stroke-width="1.1" />
<line x1="153.88" y1="222.40" x2="153.88" y2="224.60" stroke="#111" stroke-width="1.1" />
<line x1="155.63" y1="222.40" x2="155.63" y2="224.60" stroke="#111" stroke-width="1.1" />
<line x1="156.99" y1="222.40" x2="156.99" y2="224.60" stroke="#111" stroke-width="1.1" />
<line x1="158.09" y1="222.40" x2="158.09" y2="224.60" stroke="#111" stroke-width="1.1" />
<line x1="159.03" y1="222.40" x2="159.03" y2="224.60" stroke="#111" stroke-width="1.1" />
<line x1="159.84" y1="222.40" x2="159.84" y2="224.60" stroke="#111" stroke-width="1.1" />
<line x1="160.56" y1="222.40" x2="160.56" y2="224.60" stroke="#111" stroke-width="1.1" />
<line x1="161.20" y1="222.40" x2="161.20" y2="225.40" stroke="#111" stroke-width="1.1" />
<line x1="165.41" y1="222.40" x2="165.41" y2="224.60" stroke="#111" stroke-width="1.1" />
<line x1="167.88" y1="222.40" x2="167.88" y2="224.60" stroke="#111" stroke-width="1.1" />
<line x1="169.63" y1="222.40" x2="169.63" y2="224.60" stroke="#111" stroke-width="1.1" />
<line x1="170.99" y1="222.40" x2="170.99" y2="224.60" stroke="#111" stroke-width="1.1" />
<line x1="172.09" y1="222.40" x2="172.09" y2="224.60" stroke="#111" stroke-width="1.1" />
<line x1="173.03" y1="222.40" x2="173.03" y2="224.60" stroke="#111" stroke-width="1.1" />
<line x1="173.84" y1="222.40" x2="173.84" y2="224.60" stroke="#111" stroke-width="1.1" />
<line x1="174.56" y1="222.40" x2="174.56" y2="224.60" stroke="#111" stroke-width="1.1" />
<line x1="123.20" y1="222.40" x2="123.20" y2="224.40" stroke="#222" stroke-width="1.0" />
<line x1="124.70" y1="222.40" x2="124.70" y2="224.40" stroke="#222" stroke-width="1.0" />
<line x1="126.20" y1="222.40" x2="126.20" y2="224.40" stroke="#222" stroke-width="1.0" />
<line x1="127.70" y1="222.40" x2="127.70" y2="224.40" stroke="#222" stroke-width="1.0" />
<line x1="129.20" y1="222.40" x2="129.20" y2="224.40" stroke="#222" stroke-width="1.0" />
<line x1="130.70" y1="222.40" x2="130.70" y2="224.40" stroke="#222" stroke-width="1.0" />
<line x1="132.20" y1="222.40" x2="132.20" y2="224.40" stroke="#222" stroke-width="1.0" />
<line x1="175.20" y1="222.40" x2="175.20" y2="225.40" stroke="#222" stroke-width="1.0" />
<line x1="179.70" y1="222.40" x2="179.70" y2="224.40" stroke="#222" stroke-width="1.0" />
<text x="127.40" y="235.40" font-size="6.4" text-anchor="middle" font-weight="normal" fill="#444" class="ns">0</text>
<line x1="122.70" y1="223.80" x2="180.70" y2="223.80" stroke="#222" stroke-width="2.2" stroke-dasharray="1 1.1"/>
<text x="128.80" y="235.40" font-size="6.4" fill="#444" class="ns">10<tspan font-size="4.2" dy="-2.8">2</tspan></text>
<text x="144.00" y="235.40" font-size="6.4" fill="#444" class="ns">10<tspan font-size="4.2" dy="-2.8">3</tspan></text>
<text x="158.00" y="235.40" font-size="6.4" fill="#444" class="ns">10<tspan font-size="4.2" dy="-2.8">4</tspan></text>
<text x="170.80" y="235.40" font-size="6.4" fill="#444" class="ns">10<tspan font-size="4.2" dy="-2.8">5</tspan></text>
<line x1="131.30" y1="201.40" x2="166.90" y2="201.40" stroke="#222" stroke-width="1.4" />
<line x1="131.30" y1="200.00" x2="131.30" y2="202.80" stroke="#222" stroke-width="1.2" />
<line x1="166.90" y1="200.00" x2="166.90" y2="202.80" stroke="#222" stroke-width="1.2" />
<text font-size="7.4" fill="#333" text-anchor="middle" transform="translate(164.30 198.80) scale(0.84 1)">73.6</text>
<clipPath id="cl21"><rect x="201.2" y="176.2" width="60" height="46.20000000000002"/></clipPath>
<polyline points="201.50,222.00 210.70,221.50 215.10,219.00 217.00,207.50 218.30,199.90 219.80,184.70 221.10,175.50 222.10,183.40 223.10,199.30 224.00,201.80 224.90,200.20 225.90,205.60 227.20,198.60 228.50,203.70 229.70,212.60 230.70,215.80 232.30,208.20 233.50,215.10 234.80,218.30 236.70,219.60 239.20,221.90 248.80,221.50 251.30,208.80 253.80,196.10 255.70,192.90 257.00,201.20 258.90,216.40 260.60,221.50" fill="none" stroke="#8e1631" stroke-width="1.8" stroke-linejoin="round" clip-path="url(#cl21)"/>
<rect x="201.20" y="176.20" width="60.00" height="46.20" fill="none" stroke="#111" stroke-width="1.4" />
<line x1="198.60" y1="179.20" x2="201.20" y2="179.20" stroke="#222" stroke-width="1.0" />
<text x="196.40" y="181.70" font-size="7" text-anchor="end" font-weight="normal" fill="#333" class="ns">4</text>
<line x1="198.60" y1="190.40" x2="201.20" y2="190.40" stroke="#222" stroke-width="1.0" />
<text x="196.40" y="192.90" font-size="7" text-anchor="end" font-weight="normal" fill="#333" class="ns">3</text>
<line x1="198.60" y1="201.30" x2="201.20" y2="201.30" stroke="#222" stroke-width="1.0" />
<text x="196.40" y="203.80" font-size="7" text-anchor="end" font-weight="normal" fill="#333" class="ns">2</text>
<line x1="198.60" y1="212.00" x2="201.20" y2="212.00" stroke="#222" stroke-width="1.0" />
<text x="196.40" y="214.50" font-size="7" text-anchor="end" font-weight="normal" fill="#333" class="ns">1</text>
<line x1="198.60" y1="222.40" x2="201.20" y2="222.40" stroke="#222" stroke-width="1.0" />
<text x="196.40" y="224.90" font-size="7" text-anchor="end" font-weight="normal" fill="#333" class="ns">0</text>
<line x1="199.80" y1="181.44" x2="201.20" y2="181.44" stroke="#333" stroke-width="0.8" />
<line x1="199.80" y1="183.68" x2="201.20" y2="183.68" stroke="#333" stroke-width="0.8" />
<line x1="199.80" y1="185.92" x2="201.20" y2="185.92" stroke="#333" stroke-width="0.8" />
<line x1="199.80" y1="188.16" x2="201.20" y2="188.16" stroke="#333" stroke-width="0.8" />
<line x1="199.80" y1="192.58" x2="201.20" y2="192.58" stroke="#333" stroke-width="0.8" />
<line x1="199.80" y1="194.76" x2="201.20" y2="194.76" stroke="#333" stroke-width="0.8" />
<line x1="199.80" y1="196.94" x2="201.20" y2="196.94" stroke="#333" stroke-width="0.8" />
<line x1="199.80" y1="199.12" x2="201.20" y2="199.12" stroke="#333" stroke-width="0.8" />
<line x1="199.80" y1="203.44" x2="201.20" y2="203.44" stroke="#333" stroke-width="0.8" />
<line x1="199.80" y1="205.58" x2="201.20" y2="205.58" stroke="#333" stroke-width="0.8" />
<line x1="199.80" y1="207.72" x2="201.20" y2="207.72" stroke="#333" stroke-width="0.8" />
<line x1="199.80" y1="209.86" x2="201.20" y2="209.86" stroke="#333" stroke-width="0.8" />
<line x1="199.80" y1="214.08" x2="201.20" y2="214.08" stroke="#333" stroke-width="0.8" />
<line x1="199.80" y1="216.16" x2="201.20" y2="216.16" stroke="#333" stroke-width="0.8" />
<line x1="199.80" y1="218.24" x2="201.20" y2="218.24" stroke="#333" stroke-width="0.8" />
<line x1="199.80" y1="220.32" x2="201.20" y2="220.32" stroke="#333" stroke-width="0.8" />
<line x1="213.20" y1="222.40" x2="213.20" y2="225.40" stroke="#111" stroke-width="1.1" />
<line x1="217.41" y1="222.40" x2="217.41" y2="224.60" stroke="#111" stroke-width="1.1" />
<line x1="219.88" y1="222.40" x2="219.88" y2="224.60" stroke="#111" stroke-width="1.1" />
<line x1="221.63" y1="222.40" x2="221.63" y2="224.60" stroke="#111" stroke-width="1.1" />
<line x1="222.99" y1="222.40" x2="222.99" y2="224.60" stroke="#111" stroke-width="1.1" />
<line x1="224.09" y1="222.40" x2="224.09" y2="224.60" stroke="#111" stroke-width="1.1" />
<line x1="225.03" y1="222.40" x2="225.03" y2="224.60" stroke="#111" stroke-width="1.1" />
<line x1="225.84" y1="222.40" x2="225.84" y2="224.60" stroke="#111" stroke-width="1.1" />
<line x1="226.56" y1="222.40" x2="226.56" y2="224.60" stroke="#111" stroke-width="1.1" />
<line x1="227.20" y1="222.40" x2="227.20" y2="225.40" stroke="#111" stroke-width="1.1" />
<line x1="231.41" y1="222.40" x2="231.41" y2="224.60" stroke="#111" stroke-width="1.1" />
<line x1="233.88" y1="222.40" x2="233.88" y2="224.60" stroke="#111" stroke-width="1.1" />
<line x1="235.63" y1="222.40" x2="235.63" y2="224.60" stroke="#111" stroke-width="1.1" />
<line x1="236.99" y1="222.40" x2="236.99" y2="224.60" stroke="#111" stroke-width="1.1" />
<line x1="238.09" y1="222.40" x2="238.09" y2="224.60" stroke="#111" stroke-width="1.1" />
<line x1="239.03" y1="222.40" x2="239.03" y2="224.60" stroke="#111" stroke-width="1.1" />
<line x1="239.84" y1="222.40" x2="239.84" y2="224.60" stroke="#111" stroke-width="1.1" />
<line x1="240.56" y1="222.40" x2="240.56" y2="224.60" stroke="#111" stroke-width="1.1" />
<line x1="241.20" y1="222.40" x2="241.20" y2="225.40" stroke="#111" stroke-width="1.1" />
<line x1="245.41" y1="222.40" x2="245.41" y2="224.60" stroke="#111" stroke-width="1.1" />
<line x1="247.88" y1="222.40" x2="247.88" y2="224.60" stroke="#111" stroke-width="1.1" />
<line x1="249.63" y1="222.40" x2="249.63" y2="224.60" stroke="#111" stroke-width="1.1" />
<line x1="250.99" y1="222.40" x2="250.99" y2="224.60" stroke="#111" stroke-width="1.1" />
<line x1="252.09" y1="222.40" x2="252.09" y2="224.60" stroke="#111" stroke-width="1.1" />
<line x1="253.03" y1="222.40" x2="253.03" y2="224.60" stroke="#111" stroke-width="1.1" />
<line x1="253.84" y1="222.40" x2="253.84" y2="224.60" stroke="#111" stroke-width="1.1" />
<line x1="254.56" y1="222.40" x2="254.56" y2="224.60" stroke="#111" stroke-width="1.1" />
<line x1="203.20" y1="222.40" x2="203.20" y2="224.40" stroke="#222" stroke-width="1.0" />
<line x1="204.70" y1="222.40" x2="204.70" y2="224.40" stroke="#222" stroke-width="1.0" />
<line x1="206.20" y1="222.40" x2="206.20" y2="224.40" stroke="#222" stroke-width="1.0" />
<line x1="207.70" y1="222.40" x2="207.70" y2="224.40" stroke="#222" stroke-width="1.0" />
<line x1="209.20" y1="222.40" x2="209.20" y2="224.40" stroke="#222" stroke-width="1.0" />
<line x1="210.70" y1="222.40" x2="210.70" y2="224.40" stroke="#222" stroke-width="1.0" />
<line x1="212.20" y1="222.40" x2="212.20" y2="224.40" stroke="#222" stroke-width="1.0" />
<line x1="255.20" y1="222.40" x2="255.20" y2="225.40" stroke="#222" stroke-width="1.0" />
<line x1="259.70" y1="222.40" x2="259.70" y2="224.40" stroke="#222" stroke-width="1.0" />
<text x="207.40" y="235.40" font-size="6.4" text-anchor="middle" font-weight="normal" fill="#444" class="ns">0</text>
<line x1="202.70" y1="223.80" x2="260.70" y2="223.80" stroke="#222" stroke-width="2.2" stroke-dasharray="1 1.1"/>
<text x="208.80" y="235.40" font-size="6.4" fill="#444" class="ns">10<tspan font-size="4.2" dy="-2.8">2</tspan></text>
<text x="224.00" y="235.40" font-size="6.4" fill="#444" class="ns">10<tspan font-size="4.2" dy="-2.8">3</tspan></text>
<text x="238.00" y="235.40" font-size="6.4" fill="#444" class="ns">10<tspan font-size="4.2" dy="-2.8">4</tspan></text>
<text x="250.80" y="235.40" font-size="6.4" fill="#444" class="ns">10<tspan font-size="4.2" dy="-2.8">5</tspan></text>
<line x1="212.30" y1="196.40" x2="246.50" y2="196.40" stroke="#222" stroke-width="1.4" />
<line x1="212.30" y1="195.00" x2="212.30" y2="197.80" stroke="#222" stroke-width="1.2" />
<line x1="246.50" y1="195.00" x2="246.50" y2="197.80" stroke="#222" stroke-width="1.2" />
<text font-size="7.4" fill="#333" text-anchor="middle" transform="translate(244.50 193.70) scale(0.84 1)">73.1</text>
<clipPath id="cl30"><rect x="121.2" y="245.7" width="60" height="50.400000000000034"/></clipPath>
<polyline points="121.50,295.50 130.70,295.00 132.60,293.40 133.90,292.80 135.10,293.40 137.00,290.90 138.90,285.80 140.80,280.10 142.10,276.30 143.40,275.00 144.40,268.60 145.70,265.50 146.90,268.60 148.20,278.80 149.70,286.40 151.60,290.90 154.80,294.00 159.90,295.50 168.80,295.00 170.70,289.00 172.30,271.20 173.80,252.20 175.10,248.30 176.40,257.20 177.60,273.70 179.20,289.00 180.80,295.50" fill="none" stroke="#8e1631" stroke-width="1.8" stroke-linejoin="round" clip-path="url(#cl30)"/>
<rect x="121.20" y="245.70" width="60.00" height="50.40" fill="none" stroke="#111" stroke-width="1.4" />
<line x1="118.60" y1="253.20" x2="121.20" y2="253.20" stroke="#222" stroke-width="1.0" />
<text x="116.40" y="255.70" font-size="7" text-anchor="end" font-weight="normal" fill="#333" class="ns">30</text>
<line x1="118.60" y1="267.90" x2="121.20" y2="267.90" stroke="#222" stroke-width="1.0" />
<text x="116.40" y="270.40" font-size="7" text-anchor="end" font-weight="normal" fill="#333" class="ns">20</text>
<line x1="118.60" y1="282.00" x2="121.20" y2="282.00" stroke="#222" stroke-width="1.0" />
<text x="116.40" y="284.50" font-size="7" text-anchor="end" font-weight="normal" fill="#333" class="ns">10</text>
<line x1="118.60" y1="296.10" x2="121.20" y2="296.10" stroke="#222" stroke-width="1.0" />
<text x="116.40" y="298.60" font-size="7" text-anchor="end" font-weight="normal" fill="#333" class="ns">0</text>
<line x1="119.80" y1="256.14" x2="121.20" y2="256.14" stroke="#333" stroke-width="0.8" />
<line x1="119.80" y1="259.08" x2="121.20" y2="259.08" stroke="#333" stroke-width="0.8" />
<line x1="119.80" y1="262.02" x2="121.20" y2="262.02" stroke="#333" stroke-width="0.8" />
<line x1="119.80" y1="264.96" x2="121.20" y2="264.96" stroke="#333" stroke-width="0.8" />
<line x1="119.80" y1="270.72" x2="121.20" y2="270.72" stroke="#333" stroke-width="0.8" />
<line x1="119.80" y1="273.54" x2="121.20" y2="273.54" stroke="#333" stroke-width="0.8" />
<line x1="119.80" y1="276.36" x2="121.20" y2="276.36" stroke="#333" stroke-width="0.8" />
<line x1="119.80" y1="279.18" x2="121.20" y2="279.18" stroke="#333" stroke-width="0.8" />
<line x1="119.80" y1="284.82" x2="121.20" y2="284.82" stroke="#333" stroke-width="0.8" />
<line x1="119.80" y1="287.64" x2="121.20" y2="287.64" stroke="#333" stroke-width="0.8" />
<line x1="119.80" y1="290.46" x2="121.20" y2="290.46" stroke="#333" stroke-width="0.8" />
<line x1="119.80" y1="293.28" x2="121.20" y2="293.28" stroke="#333" stroke-width="0.8" />
<line x1="133.20" y1="296.10" x2="133.20" y2="299.10" stroke="#111" stroke-width="1.1" />
<line x1="137.41" y1="296.10" x2="137.41" y2="298.30" stroke="#111" stroke-width="1.1" />
<line x1="139.88" y1="296.10" x2="139.88" y2="298.30" stroke="#111" stroke-width="1.1" />
<line x1="141.63" y1="296.10" x2="141.63" y2="298.30" stroke="#111" stroke-width="1.1" />
<line x1="142.99" y1="296.10" x2="142.99" y2="298.30" stroke="#111" stroke-width="1.1" />
<line x1="144.09" y1="296.10" x2="144.09" y2="298.30" stroke="#111" stroke-width="1.1" />
<line x1="145.03" y1="296.10" x2="145.03" y2="298.30" stroke="#111" stroke-width="1.1" />
<line x1="145.84" y1="296.10" x2="145.84" y2="298.30" stroke="#111" stroke-width="1.1" />
<line x1="146.56" y1="296.10" x2="146.56" y2="298.30" stroke="#111" stroke-width="1.1" />
<line x1="147.20" y1="296.10" x2="147.20" y2="299.10" stroke="#111" stroke-width="1.1" />
<line x1="151.41" y1="296.10" x2="151.41" y2="298.30" stroke="#111" stroke-width="1.1" />
<line x1="153.88" y1="296.10" x2="153.88" y2="298.30" stroke="#111" stroke-width="1.1" />
<line x1="155.63" y1="296.10" x2="155.63" y2="298.30" stroke="#111" stroke-width="1.1" />
<line x1="156.99" y1="296.10" x2="156.99" y2="298.30" stroke="#111" stroke-width="1.1" />
<line x1="158.09" y1="296.10" x2="158.09" y2="298.30" stroke="#111" stroke-width="1.1" />
<line x1="159.03" y1="296.10" x2="159.03" y2="298.30" stroke="#111" stroke-width="1.1" />
<line x1="159.84" y1="296.10" x2="159.84" y2="298.30" stroke="#111" stroke-width="1.1" />
<line x1="160.56" y1="296.10" x2="160.56" y2="298.30" stroke="#111" stroke-width="1.1" />
<line x1="161.20" y1="296.10" x2="161.20" y2="299.10" stroke="#111" stroke-width="1.1" />
<line x1="165.41" y1="296.10" x2="165.41" y2="298.30" stroke="#111" stroke-width="1.1" />
<line x1="167.88" y1="296.10" x2="167.88" y2="298.30" stroke="#111" stroke-width="1.1" />
<line x1="169.63" y1="296.10" x2="169.63" y2="298.30" stroke="#111" stroke-width="1.1" />
<line x1="170.99" y1="296.10" x2="170.99" y2="298.30" stroke="#111" stroke-width="1.1" />
<line x1="172.09" y1="296.10" x2="172.09" y2="298.30" stroke="#111" stroke-width="1.1" />
<line x1="173.03" y1="296.10" x2="173.03" y2="298.30" stroke="#111" stroke-width="1.1" />
<line x1="173.84" y1="296.10" x2="173.84" y2="298.30" stroke="#111" stroke-width="1.1" />
<line x1="174.56" y1="296.10" x2="174.56" y2="298.30" stroke="#111" stroke-width="1.1" />
<line x1="123.20" y1="296.10" x2="123.20" y2="298.10" stroke="#222" stroke-width="1.0" />
<line x1="124.70" y1="296.10" x2="124.70" y2="298.10" stroke="#222" stroke-width="1.0" />
<line x1="126.20" y1="296.10" x2="126.20" y2="298.10" stroke="#222" stroke-width="1.0" />
<line x1="127.70" y1="296.10" x2="127.70" y2="298.10" stroke="#222" stroke-width="1.0" />
<line x1="129.20" y1="296.10" x2="129.20" y2="298.10" stroke="#222" stroke-width="1.0" />
<line x1="130.70" y1="296.10" x2="130.70" y2="298.10" stroke="#222" stroke-width="1.0" />
<line x1="132.20" y1="296.10" x2="132.20" y2="298.10" stroke="#222" stroke-width="1.0" />
<line x1="175.20" y1="296.10" x2="175.20" y2="299.10" stroke="#222" stroke-width="1.0" />
<line x1="179.70" y1="296.10" x2="179.70" y2="298.10" stroke="#222" stroke-width="1.0" />
<text x="127.40" y="309.10" font-size="6.4" text-anchor="middle" font-weight="normal" fill="#444" class="ns">0</text>
<line x1="122.70" y1="297.50" x2="180.70" y2="297.50" stroke="#222" stroke-width="2.2" stroke-dasharray="1 1.1"/>
<text x="128.80" y="309.10" font-size="6.4" fill="#444" class="ns">10<tspan font-size="4.2" dy="-2.8">2</tspan></text>
<text x="144.00" y="309.10" font-size="6.4" fill="#444" class="ns">10<tspan font-size="4.2" dy="-2.8">3</tspan></text>
<text x="158.00" y="309.10" font-size="6.4" fill="#444" class="ns">10<tspan font-size="4.2" dy="-2.8">4</tspan></text>
<text x="170.80" y="309.10" font-size="6.4" fill="#444" class="ns">10<tspan font-size="4.2" dy="-2.8">5</tspan></text>
<line x1="128.80" y1="271.80" x2="166.00" y2="271.80" stroke="#222" stroke-width="1.4" />
<line x1="128.80" y1="270.40" x2="128.80" y2="273.20" stroke="#222" stroke-width="1.2" />
<line x1="166.00" y1="270.40" x2="166.00" y2="273.20" stroke="#222" stroke-width="1.2" />
<text font-size="7.4" fill="#333" text-anchor="middle" transform="translate(145.90 262.50) scale(0.84 1)">52.7</text>
<clipPath id="cl31"><rect x="201.2" y="245.7" width="60" height="50.400000000000034"/></clipPath>
<polyline points="201.50,295.50 210.70,295.00 213.90,292.80 215.80,291.50 217.70,289.00 219.60,285.10 220.80,282.60 222.10,283.20 223.40,280.10 224.90,273.10 226.20,280.10 227.40,289.60 229.10,291.50 231.00,292.80 233.50,294.00 238.60,295.50 247.50,295.00 249.40,291.50 251.00,280.10 252.30,261.00 253.60,248.30 254.90,262.30 255.70,264.80 257.40,277.50 258.90,289.00 260.20,295.50" fill="none" stroke="#8e1631" stroke-width="1.8" stroke-linejoin="round" clip-path="url(#cl31)"/>
<rect x="201.20" y="245.70" width="60.00" height="50.40" fill="none" stroke="#111" stroke-width="1.4" />
<line x1="198.60" y1="253.70" x2="201.20" y2="253.70" stroke="#222" stroke-width="1.0" />
<text x="196.40" y="256.20" font-size="7" text-anchor="end" font-weight="normal" fill="#333" class="ns">12</text>
<line x1="198.60" y1="264.40" x2="201.20" y2="264.40" stroke="#222" stroke-width="1.0" />
<text x="196.40" y="266.90" font-size="7" text-anchor="end" font-weight="normal" fill="#333" class="ns">9</text>
<line x1="198.60" y1="275.10" x2="201.20" y2="275.10" stroke="#222" stroke-width="1.0" />
<text x="196.40" y="277.60" font-size="7" text-anchor="end" font-weight="normal" fill="#333" class="ns">6</text>
<line x1="198.60" y1="285.70" x2="201.20" y2="285.70" stroke="#222" stroke-width="1.0" />
<text x="196.40" y="288.20" font-size="7" text-anchor="end" font-weight="normal" fill="#333" class="ns">3</text>
<line x1="198.60" y1="296.10" x2="201.20" y2="296.10" stroke="#222" stroke-width="1.0" />
<text x="196.40" y="298.60" font-size="7" text-anchor="end" font-weight="normal" fill="#333" class="ns">0</text>
<line x1="199.80" y1="255.84" x2="201.20" y2="255.84" stroke="#333" stroke-width="0.8" />
<line x1="199.80" y1="257.98" x2="201.20" y2="257.98" stroke="#333" stroke-width="0.8" />
<line x1="199.80" y1="260.12" x2="201.20" y2="260.12" stroke="#333" stroke-width="0.8" />
<line x1="199.80" y1="262.26" x2="201.20" y2="262.26" stroke="#333" stroke-width="0.8" />
<line x1="199.80" y1="266.54" x2="201.20" y2="266.54" stroke="#333" stroke-width="0.8" />
<line x1="199.80" y1="268.68" x2="201.20" y2="268.68" stroke="#333" stroke-width="0.8" />
<line x1="199.80" y1="270.82" x2="201.20" y2="270.82" stroke="#333" stroke-width="0.8" />
<line x1="199.80" y1="272.96" x2="201.20" y2="272.96" stroke="#333" stroke-width="0.8" />
<line x1="199.80" y1="277.22" x2="201.20" y2="277.22" stroke="#333" stroke-width="0.8" />
<line x1="199.80" y1="279.34" x2="201.20" y2="279.34" stroke="#333" stroke-width="0.8" />
<line x1="199.80" y1="281.46" x2="201.20" y2="281.46" stroke="#333" stroke-width="0.8" />
<line x1="199.80" y1="283.58" x2="201.20" y2="283.58" stroke="#333" stroke-width="0.8" />
<line x1="199.80" y1="287.78" x2="201.20" y2="287.78" stroke="#333" stroke-width="0.8" />
<line x1="199.80" y1="289.86" x2="201.20" y2="289.86" stroke="#333" stroke-width="0.8" />
<line x1="199.80" y1="291.94" x2="201.20" y2="291.94" stroke="#333" stroke-width="0.8" />
<line x1="199.80" y1="294.02" x2="201.20" y2="294.02" stroke="#333" stroke-width="0.8" />
<line x1="213.20" y1="296.10" x2="213.20" y2="299.10" stroke="#111" stroke-width="1.1" />
<line x1="217.41" y1="296.10" x2="217.41" y2="298.30" stroke="#111" stroke-width="1.1" />
<line x1="219.88" y1="296.10" x2="219.88" y2="298.30" stroke="#111" stroke-width="1.1" />
<line x1="221.63" y1="296.10" x2="221.63" y2="298.30" stroke="#111" stroke-width="1.1" />
<line x1="222.99" y1="296.10" x2="222.99" y2="298.30" stroke="#111" stroke-width="1.1" />
<line x1="224.09" y1="296.10" x2="224.09" y2="298.30" stroke="#111" stroke-width="1.1" />
<line x1="225.03" y1="296.10" x2="225.03" y2="298.30" stroke="#111" stroke-width="1.1" />
<line x1="225.84" y1="296.10" x2="225.84" y2="298.30" stroke="#111" stroke-width="1.1" />
<line x1="226.56" y1="296.10" x2="226.56" y2="298.30" stroke="#111" stroke-width="1.1" />
<line x1="227.20" y1="296.10" x2="227.20" y2="299.10" stroke="#111" stroke-width="1.1" />
<line x1="231.41" y1="296.10" x2="231.41" y2="298.30" stroke="#111" stroke-width="1.1" />
<line x1="233.88" y1="296.10" x2="233.88" y2="298.30" stroke="#111" stroke-width="1.1" />
<line x1="235.63" y1="296.10" x2="235.63" y2="298.30" stroke="#111" stroke-width="1.1" />
<line x1="236.99" y1="296.10" x2="236.99" y2="298.30" stroke="#111" stroke-width="1.1" />
<line x1="238.09" y1="296.10" x2="238.09" y2="298.30" stroke="#111" stroke-width="1.1" />
<line x1="239.03" y1="296.10" x2="239.03" y2="298.30" stroke="#111" stroke-width="1.1" />
<line x1="239.84" y1="296.10" x2="239.84" y2="298.30" stroke="#111" stroke-width="1.1" />
<line x1="240.56" y1="296.10" x2="240.56" y2="298.30" stroke="#111" stroke-width="1.1" />
<line x1="241.20" y1="296.10" x2="241.20" y2="299.10" stroke="#111" stroke-width="1.1" />
<line x1="245.41" y1="296.10" x2="245.41" y2="298.30" stroke="#111" stroke-width="1.1" />
<line x1="247.88" y1="296.10" x2="247.88" y2="298.30" stroke="#111" stroke-width="1.1" />
<line x1="249.63" y1="296.10" x2="249.63" y2="298.30" stroke="#111" stroke-width="1.1" />
<line x1="250.99" y1="296.10" x2="250.99" y2="298.30" stroke="#111" stroke-width="1.1" />
<line x1="252.09" y1="296.10" x2="252.09" y2="298.30" stroke="#111" stroke-width="1.1" />
<line x1="253.03" y1="296.10" x2="253.03" y2="298.30" stroke="#111" stroke-width="1.1" />
<line x1="253.84" y1="296.10" x2="253.84" y2="298.30" stroke="#111" stroke-width="1.1" />
<line x1="254.56" y1="296.10" x2="254.56" y2="298.30" stroke="#111" stroke-width="1.1" />
<line x1="203.20" y1="296.10" x2="203.20" y2="298.10" stroke="#222" stroke-width="1.0" />
<line x1="204.70" y1="296.10" x2="204.70" y2="298.10" stroke="#222" stroke-width="1.0" />
<line x1="206.20" y1="296.10" x2="206.20" y2="298.10" stroke="#222" stroke-width="1.0" />
<line x1="207.70" y1="296.10" x2="207.70" y2="298.10" stroke="#222" stroke-width="1.0" />
<line x1="209.20" y1="296.10" x2="209.20" y2="298.10" stroke="#222" stroke-width="1.0" />
<line x1="210.70" y1="296.10" x2="210.70" y2="298.10" stroke="#222" stroke-width="1.0" />
<line x1="212.20" y1="296.10" x2="212.20" y2="298.10" stroke="#222" stroke-width="1.0" />
<line x1="255.20" y1="296.10" x2="255.20" y2="299.10" stroke="#222" stroke-width="1.0" />
<line x1="259.70" y1="296.10" x2="259.70" y2="298.10" stroke="#222" stroke-width="1.0" />
<text x="207.40" y="309.10" font-size="6.4" text-anchor="middle" font-weight="normal" fill="#444" class="ns">0</text>
<line x1="202.70" y1="297.50" x2="260.70" y2="297.50" stroke="#222" stroke-width="2.2" stroke-dasharray="1 1.1"/>
<text x="208.80" y="309.10" font-size="6.4" fill="#444" class="ns">10<tspan font-size="4.2" dy="-2.8">2</tspan></text>
<text x="224.00" y="309.10" font-size="6.4" fill="#444" class="ns">10<tspan font-size="4.2" dy="-2.8">3</tspan></text>
<text x="238.00" y="309.10" font-size="6.4" fill="#444" class="ns">10<tspan font-size="4.2" dy="-2.8">4</tspan></text>
<text x="250.80" y="309.10" font-size="6.4" fill="#444" class="ns">10<tspan font-size="4.2" dy="-2.8">5</tspan></text>
<line x1="208.40" y1="271.80" x2="245.20" y2="271.80" stroke="#222" stroke-width="1.4" />
<line x1="208.40" y1="270.40" x2="208.40" y2="273.20" stroke="#222" stroke-width="1.2" />
<line x1="245.20" y1="270.40" x2="245.20" y2="273.20" stroke="#222" stroke-width="1.2" />
<text font-size="7.4" fill="#333" text-anchor="middle" transform="translate(226.40 269.10) scale(0.84 1)">44.1</text>
<text x="151.2" y="31.6" font-size="8.8" font-weight="bold" text-anchor="middle" fill="#111">CD4<tspan font-size="5.6" dy="-3.2">+</tspan></text>
<text x="231.2" y="31.6" font-size="8.8" font-weight="bold" text-anchor="middle" fill="#111">CD8<tspan font-size="5.6" dy="-3.2">+</tspan></text>
<line x1="101.30" y1="40.50" x2="101.30" y2="313.20" stroke="#111" stroke-width="1.3" />
<path d="M101.3,35.6 L104.0,41.8 L98.6,41.8 Z" fill="#111"/>
<line x1="101.30" y1="313.00" x2="256.00" y2="313.00" stroke="#111" stroke-width="1.3" />
<path d="M261.1,313.0 L255.1,310.4 L255.1,315.6 Z" fill="#111"/>
<text x="179.80" y="324.40" font-size="8.6" text-anchor="middle" font-weight="normal" fill="#333" transform="translate(179.8 0) scale(0.84 1) translate(-179.8 0)">CFSE</text>
<text x="0" y="0" font-size="7.8" fill="#333" text-anchor="middle" class="ns" transform="translate(95.5 177.8) rotate(-90)"># cells</text>
<line x1="325.30" y1="143.00" x2="328.90" y2="143.00" stroke="#222" stroke-width="1.2" />
<text x="322.00" y="145.80" font-size="8.0" text-anchor="end" font-weight="normal" fill="#333" >0</text>
<line x1="325.30" y1="131.25" x2="328.90" y2="131.25" stroke="#222" stroke-width="1.2" />
<text x="322.00" y="134.05" font-size="8.0" text-anchor="end" font-weight="normal" fill="#333" >5</text>
<line x1="325.30" y1="119.50" x2="328.90" y2="119.50" stroke="#222" stroke-width="1.2" />
<text x="322.00" y="122.30" font-size="8.0" text-anchor="end" font-weight="normal" fill="#333" >10</text>
<line x1="325.30" y1="107.75" x2="328.90" y2="107.75" stroke="#222" stroke-width="1.2" />
<text x="322.00" y="110.55" font-size="8.0" text-anchor="end" font-weight="normal" fill="#333" >15</text>
<line x1="325.30" y1="96.00" x2="328.90" y2="96.00" stroke="#222" stroke-width="1.2" />
<text x="322.00" y="98.80" font-size="8.0" text-anchor="end" font-weight="normal" fill="#333" >20</text>
<line x1="325.30" y1="84.25" x2="328.90" y2="84.25" stroke="#222" stroke-width="1.2" />
<text x="322.00" y="87.05" font-size="8.0" text-anchor="end" font-weight="normal" fill="#333" >25</text>
<line x1="325.30" y1="72.50" x2="328.90" y2="72.50" stroke="#222" stroke-width="1.2" />
<text x="322.00" y="75.30" font-size="8.0" text-anchor="end" font-weight="normal" fill="#333" >30</text>
<line x1="325.30" y1="60.75" x2="328.90" y2="60.75" stroke="#222" stroke-width="1.2" />
<text x="322.00" y="63.55" font-size="8.0" text-anchor="end" font-weight="normal" fill="#333" >35</text>
<line x1="325.30" y1="49.00" x2="328.90" y2="49.00" stroke="#222" stroke-width="1.2" />
<text x="322.00" y="51.80" font-size="8.0" text-anchor="end" font-weight="normal" fill="#333" >40</text>
<line x1="325.30" y1="37.25" x2="328.90" y2="37.25" stroke="#222" stroke-width="1.2" />
<text x="322.00" y="40.05" font-size="8.0" text-anchor="end" font-weight="normal" fill="#333" >45</text>
<line x1="325.30" y1="25.50" x2="328.90" y2="25.50" stroke="#222" stroke-width="1.2" />
<text x="322.00" y="28.30" font-size="8.0" text-anchor="end" font-weight="normal" fill="#333" >50</text>
<line x1="328.90" y1="25.00" x2="328.90" y2="143.60" stroke="#111" stroke-width="1.5" />
<rect x="329.20" y="136.19" width="23.00" height="6.81" fill="#b0112c" stroke="none" stroke-width="1" />
<line x1="340.70" y1="136.19" x2="340.70" y2="129.13" stroke="#222" stroke-width="1.2" />
<line x1="335.20" y1="129.13" x2="346.20" y2="129.13" stroke="#222" stroke-width="1.2" />
<rect x="354.30" y="63.10" width="22.00" height="79.90" fill="#2a4a87" stroke="none" stroke-width="1" />
<line x1="365.30" y1="63.10" x2="365.30" y2="53.23" stroke="#222" stroke-width="1.2" />
<line x1="359.80" y1="53.23" x2="370.80" y2="53.23" stroke="#222" stroke-width="1.2" />
<rect x="385.20" y="139.94" width="22.20" height="3.06" fill="#74b24c" stroke="none" stroke-width="1" />
<line x1="396.30" y1="139.94" x2="396.30" y2="136.89" stroke="#222" stroke-width="1.2" />
<line x1="390.80" y1="136.89" x2="401.80" y2="136.89" stroke="#222" stroke-width="1.2" />
<rect x="409.50" y="49.94" width="22.20" height="93.06" fill="#522266" stroke="none" stroke-width="1" />
<line x1="420.60" y1="49.94" x2="420.60" y2="34.43" stroke="#222" stroke-width="1.2" />
<line x1="415.10" y1="34.43" x2="426.10" y2="34.43" stroke="#222" stroke-width="1.2" />
<line x1="328.90" y1="143.00" x2="432.80" y2="143.00" stroke="#111" stroke-width="1.6" />
<line x1="340.70" y1="143.00" x2="340.70" y2="146.00" stroke="#222" stroke-width="1.1" />
<line x1="365.30" y1="143.00" x2="365.30" y2="146.00" stroke="#222" stroke-width="1.1" />
<line x1="396.30" y1="143.00" x2="396.30" y2="146.00" stroke="#222" stroke-width="1.1" />
<line x1="420.60" y1="143.00" x2="420.60" y2="146.00" stroke="#222" stroke-width="1.1" />
<path d="M340.70,50.80 V48.80 H365.30 V50.80" fill="none" stroke="#222" stroke-width="1.3"/>
<circle cx="352.80" cy="45.40" r="1.2" fill="#1a1a1a"/>
<path d="M396.30,32.30 V30.30 H420.60 V32.30" fill="none" stroke="#222" stroke-width="1.3"/>
<circle cx="406.47" cy="26.50" r="1.2" fill="#1a1a1a"/>
<circle cx="410.32" cy="26.50" r="1.2" fill="#1a1a1a"/>
<text font-size="10.0" fill="#333" text-anchor="middle" transform="translate(295.8 85.4) rotate(-90) scale(0.95 1)">(%) suppression of T cell</text>
<text font-size="10.0" fill="#333" text-anchor="middle" transform="translate(307.2 82.8) rotate(-90) scale(0.95 1)">subsets in MLR</text>
<text font-size="9.4" fill="#333" text-anchor="end" transform="translate(348.70 153.30) rotate(-45) scale(0.86 1)">CD8&#945;<tspan font-size="6.5" dy="-3">+</tspan><tspan dy="3">DCs-UNT</tspan></text>
<text font-size="9.4" fill="#333" text-anchor="end" transform="translate(373.30 153.30) rotate(-45) scale(0.86 1)">CD8&#945;<tspan font-size="6.5" dy="-3">+</tspan><tspan dy="3">DCs-TLI</tspan></text>
<text font-size="9.4" fill="#333" text-anchor="end" transform="translate(404.30 153.30) rotate(-45) scale(0.86 1)">CD8&#945;<tspan font-size="6.5" dy="-3">+</tspan><tspan dy="3">DCs-UNT</tspan></text>
<text font-size="9.4" fill="#333" text-anchor="end" transform="translate(428.60 153.30) rotate(-45) scale(0.86 1)">CD8&#945;<tspan font-size="6.5" dy="-3">+</tspan><tspan dy="3">DCs-TLI</tspan></text>
<path d="M329.90,201.80 V203.80 H375.90 V201.80" fill="none" stroke="#222" stroke-width="1.3"/>
<path d="M386.50,201.80 V203.80 H432.00 V201.80" fill="none" stroke="#222" stroke-width="1.3"/>
<text font-size="10.8" fill="#333" text-anchor="middle" transform="translate(352.8 219.0) scale(0.78 1)">CD4<tspan font-size="7" dy="-3.8">+</tspan><tspan dy="3.8"> T cells</tspan></text>
<text font-size="10.8" fill="#333" text-anchor="middle" transform="translate(409.4 219.0) scale(0.78 1)">CD8<tspan font-size="7" dy="-3.8">+</tspan><tspan dy="3.8"> T cells</tspan></text>
<line x1="320.40" y1="251.00" x2="320.40" y2="275.50" stroke="#111" stroke-width="1.3" />
<path d="M320.4,246.5 L322.9,252.5 L317.9,252.5 Z" fill="#111"/>
<line x1="320.40" y1="323.50" x2="320.40" y2="342.50" stroke="#111" stroke-width="1.3" />
<text font-size="10.6" fill="#2a2a2a" text-anchor="middle" transform="translate(323.3 297.6) rotate(-90) scale(0.86 1)">% of Max.</text>
<line x1="328.60" y1="343.50" x2="424.50" y2="343.50" stroke="#111" stroke-width="2.0" />
<line x1="349.00" y1="343.30" x2="349.00" y2="346.60" stroke="#111" stroke-width="1.1" />
<line x1="355.77" y1="343.30" x2="355.77" y2="345.70" stroke="#111" stroke-width="1.1" />
<line x1="359.74" y1="343.30" x2="359.74" y2="345.70" stroke="#111" stroke-width="1.1" />
<line x1="362.55" y1="343.30" x2="362.55" y2="345.70" stroke="#111" stroke-width="1.1" />
<line x1="364.73" y1="343.30" x2="364.73" y2="345.70" stroke="#111" stroke-width="1.1" />
<line x1="366.51" y1="343.30" x2="366.51" y2="345.70" stroke="#111" stroke-width="1.1" />
<line x1="368.01" y1="343.30" x2="368.01" y2="345.70" stroke="#111" stroke-width="1.1" />
<line x1="369.32" y1="343.30" x2="369.32" y2="345.70" stroke="#111" stroke-width="1.1" />
<line x1="370.47" y1="343.30" x2="370.47" y2="345.70" stroke="#111" stroke-width="1.1" />
<line x1="371.50" y1="343.30" x2="371.50" y2="346.60" stroke="#111" stroke-width="1.1" />
<line x1="378.12" y1="343.30" x2="378.12" y2="345.70" stroke="#111" stroke-width="1.1" />
<line x1="382.00" y1="343.30" x2="382.00" y2="345.70" stroke="#111" stroke-width="1.1" />
<line x1="384.75" y1="343.30" x2="384.75" y2="345.70" stroke="#111" stroke-width="1.1" />
<line x1="386.88" y1="343.30" x2="386.88" y2="345.70" stroke="#111" stroke-width="1.1" />
<line x1="388.62" y1="343.30" x2="388.62" y2="345.70" stroke="#111" stroke-width="1.1" />
<line x1="390.09" y1="343.30" x2="390.09" y2="345.70" stroke="#111" stroke-width="1.1" />
<line x1="391.37" y1="343.30" x2="391.37" y2="345.70" stroke="#111" stroke-width="1.1" />
<line x1="392.49" y1="343.30" x2="392.49" y2="345.70" stroke="#111" stroke-width="1.1" />
<line x1="393.50" y1="343.30" x2="393.50" y2="346.60" stroke="#111" stroke-width="1.1" />
<line x1="399.91" y1="343.30" x2="399.91" y2="345.70" stroke="#111" stroke-width="1.1" />
<line x1="403.66" y1="343.30" x2="403.66" y2="345.70" stroke="#111" stroke-width="1.1" />
<line x1="406.32" y1="343.30" x2="406.32" y2="345.70" stroke="#111" stroke-width="1.1" />
<line x1="408.39" y1="343.30" x2="408.39" y2="345.70" stroke="#111" stroke-width="1.1" />
<line x1="410.07" y1="343.30" x2="410.07" y2="345.70" stroke="#111" stroke-width="1.1" />
<line x1="411.50" y1="343.30" x2="411.50" y2="345.70" stroke="#111" stroke-width="1.1" />
<line x1="412.74" y1="343.30" x2="412.74" y2="345.70" stroke="#111" stroke-width="1.1" />
<line x1="413.83" y1="343.30" x2="413.83" y2="345.70" stroke="#111" stroke-width="1.1" />
<line x1="331.50" y1="343.30" x2="331.50" y2="345.70" stroke="#111" stroke-width="1.1" />
<line x1="333.50" y1="343.30" x2="333.50" y2="345.70" stroke="#111" stroke-width="1.1" />
<line x1="335.50" y1="343.30" x2="335.50" y2="345.70" stroke="#111" stroke-width="1.1" />
<line x1="337.50" y1="343.30" x2="337.50" y2="345.70" stroke="#111" stroke-width="1.1" />
<line x1="339.50" y1="343.30" x2="339.50" y2="345.70" stroke="#111" stroke-width="1.1" />
<line x1="341.50" y1="343.30" x2="341.50" y2="345.70" stroke="#111" stroke-width="1.1" />
<line x1="343.50" y1="343.30" x2="343.50" y2="345.70" stroke="#111" stroke-width="1.1" />
<line x1="345.50" y1="343.30" x2="345.50" y2="345.70" stroke="#111" stroke-width="1.1" />
<line x1="347.50" y1="343.30" x2="347.50" y2="345.70" stroke="#111" stroke-width="1.1" />
<line x1="349.00" y1="343.30" x2="349.00" y2="345.70" stroke="#111" stroke-width="1.1" />
<line x1="424.00" y1="343.30" x2="424.00" y2="346.60" stroke="#111" stroke-width="1.1" />
<polygon points="329.5,279.3 334,279.2 338.5,278.2 342,274.5 345,266.5 348,256.5 350.3,250.8 351.5,249.8 353,251 355,262.7 357.7,269.6 360.4,274.2 364.2,276.9 367,278.6 370,279.3 424.2,279.3" fill="#c8c8c8" stroke="none"/>
<polyline points="329.50,279.30 334.00,279.20 338.50,278.20 342.00,274.50 345.00,266.50 348.00,256.50 350.30,250.80 351.50,249.80 353.00,251.00 355.00,262.70 357.70,269.60 360.40,274.20 364.20,276.90 367.00,278.60 370.00,279.30 424.20,279.30" fill="none" stroke="#111111" stroke-width="1.5" stroke-linejoin="round" />
<polyline points="329.50,294.80 340.00,294.90 348.00,294.70 352.70,294.20 356.50,291.90 359.60,290.80 362.70,285.80 364.60,280.40 366.20,276.90 367.70,272.70 368.80,269.20 370.00,267.90 371.20,265.40 372.70,268.80 374.20,273.50 375.80,279.60 378.10,287.30 380.40,293.50 382.70,294.90 424.20,294.90" fill="none" stroke="#34487f" stroke-width="1.5" stroke-linejoin="round" />
<polyline points="329.50,310.50 338.00,310.50 342.50,308.50 346.00,308.60 350.00,307.00 354.00,305.00 357.00,302.00 359.00,298.00 361.00,292.00 362.50,286.00 364.00,281.40 365.50,286.00 367.00,294.00 369.00,302.00 371.00,308.00 372.50,310.30 424.20,310.50" fill="none" stroke="#3c2d66" stroke-width="1.5" stroke-linejoin="round" />
<polyline points="329.50,323.80 331.50,325.50 334.00,326.00 336.50,322.00 338.50,319.50 339.80,319.10 341.00,322.00 342.50,324.00 344.50,321.00 346.50,320.00 348.50,321.50 350.50,320.50 352.00,317.50 353.50,315.00 355.00,308.00 356.50,305.00 358.00,303.50 359.50,303.00 361.00,298.00 362.70,296.90 364.00,300.00 365.50,308.00 367.00,312.00 368.50,316.00 370.00,322.00 372.00,326.00 374.00,326.50 424.20,326.50" fill="none" stroke="#b2133a" stroke-width="1.6" stroke-linejoin="round" />
<polyline points="329.30,324.50 331.00,328.00 332.50,330.00 334.50,328.50 336.50,327.00 338.50,330.00 340.50,332.00 342.50,328.50 344.50,325.50 346.50,329.50 348.00,331.50 350.00,327.00 352.00,321.00 354.00,318.50 356.00,317.00 357.50,318.50 359.50,316.00 361.30,312.80 362.50,316.00 364.00,322.00 365.50,327.00 367.00,333.00 368.50,337.00 370.00,339.50 372.00,340.50 375.00,341.00 378.00,341.60 382.00,341.20 386.00,342.20 395.00,342.50 418.00,342.50 422.00,341.30 424.20,340.80" fill="none" stroke="#6aae45" stroke-width="1.5" stroke-linejoin="round" />
<line x1="329.00" y1="246.80" x2="329.00" y2="343.60" stroke="#5c9c3c" stroke-width="1.8" />
<text x="336.6" y="357.0" font-size="8" fill="#333">0</text>
<text x="343.40" y="357.0" font-size="8" fill="#333">10<tspan font-size="5.8" dy="-3">2</tspan></text>
<text x="366.60" y="357.0" font-size="8" fill="#333">10<tspan font-size="5.8" dy="-3">3</tspan></text>
<text x="389.40" y="357.0" font-size="8" fill="#333">10<tspan font-size="5.8" dy="-3">4</tspan></text>
<text x="410.00" y="357.0" font-size="8" fill="#333">10<tspan font-size="5.8" dy="-3">5</tspan></text>
<line x1="328.20" y1="366.50" x2="358.30" y2="366.50" stroke="#111" stroke-width="1.2" />
<line x1="385.60" y1="366.50" x2="419.50" y2="366.50" stroke="#111" stroke-width="1.2" />
<path d="M424.6,366.5 L418.6,363.9 L418.6,369.1 Z" fill="#111"/>
<text font-size="10" fill="#333" text-anchor="middle" transform="translate(372.7 370.0) scale(0.86 1)">IDO</text>
<rect x="435.00" y="252.70" width="10.20" height="3.40" fill="#c8c8c8" stroke="#111" stroke-width="1.2" />
<line x1="434.40" y1="266.00" x2="445.60" y2="266.00" stroke="#34487f" stroke-width="1.5" />
<line x1="434.40" y1="276.90" x2="445.60" y2="276.90" stroke="#3c2d66" stroke-width="1.5" />
<line x1="434.40" y1="287.10" x2="445.60" y2="287.10" stroke="#b2133a" stroke-width="1.5" />
<line x1="434.40" y1="297.70" x2="445.60" y2="297.70" stroke="#6aae45" stroke-width="1.5" />
<text font-size="9.8" fill="#222" transform="translate(448.8 257.90) scale(0.78 1)">Isotype control IgG</text>
<text font-size="9.8" fill="#222" transform="translate(448.8 269.50) scale(0.78 1)">WT- TLI</text>
<text font-size="9.8" fill="#222" transform="translate(448.8 280.40) scale(0.78 1)">J&#945;18<tspan font-size="5.6" dy="-3">-/-</tspan><tspan dy="3">- TLI</tspan></text>
<text font-size="9.8" fill="#222" transform="translate(448.8 290.60) scale(0.78 1)">UNT WT</text>
<text font-size="9.8" fill="#222" transform="translate(448.8 301.20) scale(0.78 1)">UNT J&#945;18<tspan font-size="5.6" dy="-3">-/-</tspan></text>
<line x1="62.20" y1="556.00" x2="65.20" y2="556.00" stroke="#222" stroke-width="1.2" />
<text x="58.80" y="558.70" font-size="7.7" text-anchor="end" font-weight="normal" fill="#333" >0</text>
<line x1="62.20" y1="540.80" x2="65.20" y2="540.80" stroke="#222" stroke-width="1.2" />
<text x="58.80" y="543.50" font-size="7.7" text-anchor="end" font-weight="normal" fill="#333" >100</text>
<line x1="62.20" y1="525.60" x2="65.20" y2="525.60" stroke="#222" stroke-width="1.2" />
<text x="58.80" y="528.30" font-size="7.7" text-anchor="end" font-weight="normal" fill="#333" >200</text>
<line x1="62.20" y1="510.40" x2="65.20" y2="510.40" stroke="#222" stroke-width="1.2" />
<text x="58.80" y="513.10" font-size="7.7" text-anchor="end" font-weight="normal" fill="#333" >300</text>
<line x1="62.20" y1="495.20" x2="65.20" y2="495.20" stroke="#222" stroke-width="1.2" />
<text x="58.80" y="497.90" font-size="7.7" text-anchor="end" font-weight="normal" fill="#333" >400</text>
<line x1="62.20" y1="480.00" x2="65.20" y2="480.00" stroke="#222" stroke-width="1.2" />
<text x="58.80" y="482.70" font-size="7.7" text-anchor="end" font-weight="normal" fill="#333" >500</text>
<line x1="62.20" y1="464.80" x2="65.20" y2="464.80" stroke="#222" stroke-width="1.2" />
<text x="58.80" y="467.50" font-size="7.7" text-anchor="end" font-weight="normal" fill="#333" >600</text>
<line x1="62.20" y1="449.60" x2="65.20" y2="449.60" stroke="#222" stroke-width="1.2" />
<text x="58.80" y="452.30" font-size="7.7" text-anchor="end" font-weight="normal" fill="#333" >700</text>
<line x1="62.20" y1="434.40" x2="65.20" y2="434.40" stroke="#222" stroke-width="1.2" />
<text x="58.80" y="437.10" font-size="7.7" text-anchor="end" font-weight="normal" fill="#333" >800</text>
<line x1="65.20" y1="433.90" x2="65.20" y2="556.60" stroke="#111" stroke-width="1.5" />
<line x1="65.20" y1="556.00" x2="204.60" y2="556.00" stroke="#111" stroke-width="1.6" />
<line x1="82.50" y1="556.00" x2="82.50" y2="559.00" stroke="#222" stroke-width="1.1" />
<line x1="117.30" y1="556.00" x2="117.30" y2="559.00" stroke="#222" stroke-width="1.1" />
<line x1="152.00" y1="556.00" x2="152.00" y2="559.00" stroke="#222" stroke-width="1.1" />
<line x1="186.80" y1="556.00" x2="186.80" y2="559.00" stroke="#222" stroke-width="1.1" />
<circle cx="82.3" cy="508.5" r="2.55" fill="#b0102b"/>
<circle cx="73.8" cy="520.6" r="2.55" fill="#b0102b"/>
<circle cx="78.3" cy="522.1" r="2.55" fill="#b0102b"/>
<circle cx="86.3" cy="519.1" r="2.55" fill="#b0102b"/>
<circle cx="86.0" cy="528.6" r="2.55" fill="#b0102b"/>
<circle cx="74.6" cy="533.3064404432133" r="2.55" fill="#b0102b"/>
<circle cx="76.44999999999999" cy="535.7536227493075" r="2.55" fill="#b0102b"/>
<circle cx="78.3" cy="537.5016101108033" r="2.55" fill="#b0102b"/>
<circle cx="80.15" cy="538.5504025277008" r="2.55" fill="#b0102b"/>
<circle cx="82.0" cy="538.9" r="2.55" fill="#b0102b"/>
<circle cx="83.85" cy="538.5504025277008" r="2.55" fill="#b0102b"/>
<circle cx="85.7" cy="537.5016101108033" r="2.55" fill="#b0102b"/>
<circle cx="87.55000000000001" cy="535.7536227493075" r="2.55" fill="#b0102b"/>
<circle cx="89.4" cy="533.3064404432133" r="2.55" fill="#b0102b"/>
<circle cx="117.1" cy="444.9" r="2.65" fill="#2e4b88"/>
<circle cx="121.2" cy="451.2" r="2.65" fill="#2e4b88"/>
<circle cx="108.9" cy="456.0" r="2.65" fill="#2e4b88"/>
<circle cx="113.3" cy="461.7" r="2.65" fill="#2e4b88"/>
<circle cx="121.0" cy="465.6" r="2.65" fill="#2e4b88"/>
<circle cx="109.4" cy="474.0" r="2.65" fill="#2e4b88"/>
<circle cx="117.1" cy="478.4" r="2.65" fill="#2e4b88"/>
<circle cx="124.6" cy="476.9" r="2.65" fill="#2e4b88"/>
<path d="M141.0,535.0 Q146.5,534.2 152.3,537.0 Q158.0,534.2 163.0,535.0 L162.4,540.2 Q157.5,543.8 152.3,543.8 Q147.0,543.8 141.8,540.2 Z" fill="#6bb04c"/>
<rect x="175.40" y="494.00" width="5.20" height="5.20" fill="#4f2478" stroke="none" stroke-width="1" />
<rect x="193.20" y="495.90" width="5.20" height="5.20" fill="#4f2478" stroke="none" stroke-width="1" />
<rect x="181.20" y="498.90" width="5.20" height="5.20" fill="#4f2478" stroke="none" stroke-width="1" />
<rect x="186.60" y="501.20" width="5.20" height="5.20" fill="#4f2478" stroke="none" stroke-width="1" />
<rect x="176.30" y="504.30" width="5.20" height="5.20" fill="#4f2478" stroke="none" stroke-width="1" />
<rect x="192.00" y="504.30" width="5.20" height="5.20" fill="#4f2478" stroke="none" stroke-width="1" />
<rect x="184.00" y="509.40" width="5.20" height="5.20" fill="#4f2478" stroke="none" stroke-width="1" />
<rect x="192.00" y="520.90" width="5.20" height="5.20" fill="#4f2478" stroke="none" stroke-width="1" />
<rect x="176.30" y="523.20" width="5.20" height="5.20" fill="#4f2478" stroke="none" stroke-width="1" />
<rect x="184.30" y="524.80" width="5.20" height="5.20" fill="#4f2478" stroke="none" stroke-width="1" />
<rect x="176.30" y="532.40" width="5.20" height="5.20" fill="#4f2478" stroke="none" stroke-width="1" />
<rect x="184.30" y="535.10" width="5.20" height="5.20" fill="#4f2478" stroke="none" stroke-width="1" />
<rect x="192.00" y="534.80" width="5.20" height="5.20" fill="#4f2478" stroke="none" stroke-width="1" />
<line x1="70.70" y1="529.40" x2="94.10" y2="529.40" stroke="#111" stroke-width="1.6" />
<line x1="82.40" y1="526.80" x2="82.40" y2="532.00" stroke="#111" stroke-width="1.2" />
<line x1="76.40" y1="526.80" x2="88.40" y2="526.80" stroke="#111" stroke-width="1.2" />
<line x1="76.40" y1="532.00" x2="88.40" y2="532.00" stroke="#111" stroke-width="1.2" />
<line x1="105.40" y1="463.70" x2="128.80" y2="463.70" stroke="#111" stroke-width="1.6" />
<line x1="117.10" y1="459.60" x2="117.10" y2="467.50" stroke="#111" stroke-width="1.2" />
<line x1="111.10" y1="459.60" x2="123.10" y2="459.60" stroke="#111" stroke-width="1.2" />
<line x1="111.10" y1="467.50" x2="123.10" y2="467.50" stroke="#111" stroke-width="1.2" />
<line x1="140.20" y1="539.10" x2="164.80" y2="539.10" stroke="#111" stroke-width="1.6" />
<line x1="152.50" y1="538.60" x2="152.50" y2="539.60" stroke="#111" stroke-width="1.2" />
<line x1="149.50" y1="538.60" x2="155.50" y2="538.60" stroke="#111" stroke-width="1.2" />
<line x1="149.50" y1="539.60" x2="155.50" y2="539.60" stroke="#111" stroke-width="1.2" />
<line x1="175.20" y1="516.50" x2="198.60" y2="516.50" stroke="#111" stroke-width="1.6" />
<line x1="186.90" y1="511.50" x2="186.90" y2="520.30" stroke="#111" stroke-width="1.2" />
<line x1="180.90" y1="511.50" x2="192.90" y2="511.50" stroke="#111" stroke-width="1.2" />
<line x1="180.90" y1="520.30" x2="192.90" y2="520.30" stroke="#111" stroke-width="1.2" />
<path d="M116.50,415.20 V413.30 H186.60 V415.20" fill="none" stroke="#222" stroke-width="1.4"/>
<circle cx="147.75" cy="408.50" r="1.2" fill="#1a1a1a"/>
<circle cx="151.60" cy="408.50" r="1.2" fill="#1a1a1a"/>
<circle cx="155.45" cy="408.50" r="1.2" fill="#1a1a1a"/>
<path d="M82.00,423.60 V421.70 H186.60 V423.60" fill="none" stroke="#222" stroke-width="1.4"/>
<circle cx="130.15" cy="417.10" r="1.2" fill="#1a1a1a"/>
<circle cx="134.00" cy="417.10" r="1.2" fill="#1a1a1a"/>
<circle cx="137.85" cy="417.10" r="1.2" fill="#1a1a1a"/>
<path d="M82.00,431.20 V429.30 H151.30 V431.20" fill="none" stroke="#222" stroke-width="1.4"/>
<circle cx="117.00" cy="424.50" r="1.2" fill="#1a1a1a"/>
<path d="M82.00,440.20 V438.30 H115.50 V440.20" fill="none" stroke="#222" stroke-width="1.4"/>
<circle cx="94.75" cy="433.70" r="1.2" fill="#1a1a1a"/>
<circle cx="98.60" cy="433.70" r="1.2" fill="#1a1a1a"/>
<circle cx="102.45" cy="433.70" r="1.2" fill="#1a1a1a"/>
<path d="M118.40,440.20 V438.30 H150.50 V440.20" fill="none" stroke="#222" stroke-width="1.4"/>
<circle cx="130.15" cy="433.70" r="1.2" fill="#1a1a1a"/>
<circle cx="134.00" cy="433.70" r="1.2" fill="#1a1a1a"/>
<circle cx="137.85" cy="433.70" r="1.2" fill="#1a1a1a"/>
<path d="M153.10,440.20 V438.30 H186.60 V440.20" fill="none" stroke="#222" stroke-width="1.4"/>
<circle cx="168.17" cy="433.20" r="1.2" fill="#1a1a1a"/>
<circle cx="172.03" cy="433.20" r="1.2" fill="#1a1a1a"/>
<text font-size="9.8" fill="#333" text-anchor="middle" transform="translate(28.2 492.4) rotate(-90) scale(0.93 1)">(MFI) IDO expression among</text>
<text font-size="9.8" fill="#333" text-anchor="middle" transform="translate(39.2 492.4) rotate(-90) scale(0.93 1)">CD11c<tspan font-size="6.4" dy="-3">+</tspan><tspan dy="3">CD8&#945;</tspan><tspan font-size="6.4" dy="-3">+</tspan><tspan dy="3"> cells</tspan></text>
<text font-size="9.4" fill="#333" text-anchor="end" transform="translate(88.30 566.40) rotate(-45) scale(0.9 1)">UNT WT</text>
<text font-size="9.4" fill="#333" text-anchor="end" transform="translate(123.10 566.40) rotate(-45) scale(0.9 1)">WT-TLI</text>
<text font-size="9.4" fill="#333" text-anchor="end" transform="translate(157.80 566.40) rotate(-45) scale(0.9 1)">UNT J&#945;18<tspan font-size="5.8" dy="-3">-/-</tspan></text>
<text font-size="9.4" fill="#333" text-anchor="end" transform="translate(192.60 566.40) rotate(-45) scale(0.9 1)">J&#945;18<tspan font-size="5.8" dy="-3">-/-</tspan><tspan dy="3"> -TLI</tspan></text>
<line x1="280.00" y1="555.80" x2="283.00" y2="555.80" stroke="#222" stroke-width="1.2" />
<text x="277.10" y="558.50" font-size="7.6" text-anchor="end" font-weight="normal" fill="#333" >0</text>
<line x1="280.00" y1="537.50" x2="283.00" y2="537.50" stroke="#222" stroke-width="1.2" />
<text x="277.10" y="540.20" font-size="7.6" text-anchor="end" font-weight="normal" fill="#333" >500</text>
<line x1="280.00" y1="519.20" x2="283.00" y2="519.20" stroke="#222" stroke-width="1.2" />
<text x="277.10" y="521.90" font-size="7.6" text-anchor="end" font-weight="normal" fill="#333" >1000</text>
<line x1="280.00" y1="500.90" x2="283.00" y2="500.90" stroke="#222" stroke-width="1.2" />
<text x="277.10" y="503.60" font-size="7.6" text-anchor="end" font-weight="normal" fill="#333" >1500</text>
<line x1="280.00" y1="482.60" x2="283.00" y2="482.60" stroke="#222" stroke-width="1.2" />
<text x="277.10" y="485.30" font-size="7.6" text-anchor="end" font-weight="normal" fill="#333" >2000</text>
<line x1="280.00" y1="464.30" x2="283.00" y2="464.30" stroke="#222" stroke-width="1.2" />
<text x="277.10" y="467.00" font-size="7.6" text-anchor="end" font-weight="normal" fill="#333" >2500</text>
<line x1="280.00" y1="446.00" x2="283.00" y2="446.00" stroke="#222" stroke-width="1.2" />
<text x="277.10" y="448.70" font-size="7.6" text-anchor="end" font-weight="normal" fill="#333" >3000</text>
<line x1="283.00" y1="445.50" x2="283.00" y2="556.40" stroke="#111" stroke-width="1.5" />
<rect x="283.60" y="539.70" width="15.50" height="16.10" fill="#2c4f8c" stroke="none" stroke-width="1" />
<line x1="291.35" y1="539.70" x2="291.35" y2="538.41" stroke="#111" stroke-width="1.0" />
<line x1="287.35" y1="538.41" x2="295.35" y2="538.41" stroke="#111" stroke-width="1.0" />
<rect x="301.10" y="531.46" width="14.80" height="24.34" fill="#c20f2f" stroke="none" stroke-width="1" />
<line x1="308.50" y1="531.46" x2="308.50" y2="530.91" stroke="#111" stroke-width="1.0" />
<line x1="304.50" y1="530.91" x2="312.50" y2="530.91" stroke="#111" stroke-width="1.0" />
<rect x="324.40" y="551.41" width="14.20" height="4.39" fill="#b41a74" stroke="none" stroke-width="1" />
<line x1="331.50" y1="551.41" x2="331.50" y2="551.22" stroke="#111" stroke-width="1.0" />
<line x1="327.50" y1="551.22" x2="335.50" y2="551.22" stroke="#111" stroke-width="1.0" />
<rect x="341.10" y="551.96" width="13.70" height="3.84" fill="#dd962a" stroke="none" stroke-width="1" />
<line x1="347.95" y1="551.96" x2="347.95" y2="551.77" stroke="#111" stroke-width="1.0" />
<line x1="343.95" y1="551.77" x2="351.95" y2="551.77" stroke="#111" stroke-width="1.0" />
<rect x="357.00" y="487.72" width="14.30" height="68.08" fill="#70ae40" stroke="none" stroke-width="1" />
<line x1="364.15" y1="487.72" x2="364.15" y2="486.26" stroke="#111" stroke-width="1.0" />
<line x1="360.15" y1="486.26" x2="368.15" y2="486.26" stroke="#111" stroke-width="1.0" />
<rect x="373.90" y="454.05" width="14.00" height="101.75" fill="#6d431b" stroke="none" stroke-width="1" />
<line x1="380.90" y1="454.05" x2="380.90" y2="451.49" stroke="#111" stroke-width="1.0" />
<line x1="376.90" y1="451.49" x2="384.90" y2="451.49" stroke="#111" stroke-width="1.0" />
<rect x="396.30" y="551.96" width="14.40" height="3.84" fill="#3e1d5c" stroke="none" stroke-width="1" />
<line x1="403.50" y1="551.96" x2="403.50" y2="551.77" stroke="#111" stroke-width="1.0" />
<line x1="399.50" y1="551.77" x2="407.50" y2="551.77" stroke="#111" stroke-width="1.0" />
<rect x="413.30" y="551.77" width="13.70" height="4.03" fill="#2e5e4c" stroke="none" stroke-width="1" />
<line x1="420.15" y1="551.77" x2="420.15" y2="551.59" stroke="#111" stroke-width="1.0" />
<line x1="416.15" y1="551.59" x2="424.15" y2="551.59" stroke="#111" stroke-width="1.0" />
<rect x="429.80" y="485.53" width="13.70" height="70.27" fill="#c6c6c8" stroke="none" stroke-width="1" />
<line x1="436.65" y1="485.53" x2="436.65" y2="483.33" stroke="#a0a0a0" stroke-width="1.0" />
<line x1="432.65" y1="483.33" x2="440.65" y2="483.33" stroke="#a0a0a0" stroke-width="1.0" />
<rect x="446.00" y="474.18" width="13.80" height="81.62" fill="#8c7fc0" stroke="none" stroke-width="1" />
<line x1="452.90" y1="474.18" x2="452.90" y2="473.45" stroke="#6a5ea0" stroke-width="1.0" />
<line x1="448.90" y1="473.45" x2="456.90" y2="473.45" stroke="#6a5ea0" stroke-width="1.0" />
<line x1="283.00" y1="555.80" x2="460.90" y2="555.80" stroke="#111" stroke-width="1.6" />
<line x1="291.35" y1="555.80" x2="291.35" y2="558.80" stroke="#222" stroke-width="1.1" />
<line x1="308.50" y1="555.80" x2="308.50" y2="558.80" stroke="#222" stroke-width="1.1" />
<line x1="331.50" y1="555.80" x2="331.50" y2="558.80" stroke="#222" stroke-width="1.1" />
<line x1="347.95" y1="555.80" x2="347.95" y2="558.80" stroke="#222" stroke-width="1.1" />
<line x1="364.15" y1="555.80" x2="364.15" y2="558.80" stroke="#222" stroke-width="1.1" />
<line x1="380.90" y1="555.80" x2="380.90" y2="558.80" stroke="#222" stroke-width="1.1" />
<line x1="403.50" y1="555.80" x2="403.50" y2="558.80" stroke="#222" stroke-width="1.1" />
<line x1="420.15" y1="555.80" x2="420.15" y2="558.80" stroke="#222" stroke-width="1.1" />
<line x1="436.65" y1="555.80" x2="436.65" y2="558.80" stroke="#222" stroke-width="1.1" />
<line x1="452.90" y1="555.80" x2="452.90" y2="558.80" stroke="#222" stroke-width="1.1" />
<path d="M307.90,412.40 V410.50 H451.70 V412.40" fill="none" stroke="#222" stroke-width="1.4"/>
<circle cx="375.85" cy="405.80" r="1.2" fill="#1a1a1a"/>
<circle cx="379.70" cy="405.80" r="1.2" fill="#1a1a1a"/>
<circle cx="383.55" cy="405.80" r="1.2" fill="#1a1a1a"/>
<path d="M292.50,420.40 V418.50 H435.30 V420.40" fill="none" stroke="#222" stroke-width="1.4"/>
<circle cx="359.95" cy="414.20" r="1.2" fill="#1a1a1a"/>
<circle cx="363.80" cy="414.20" r="1.2" fill="#1a1a1a"/>
<circle cx="367.65" cy="414.20" r="1.2" fill="#1a1a1a"/>
<path d="M308.80,429.30 V427.40 H381.20 V429.30" fill="none" stroke="#222" stroke-width="1.4"/>
<circle cx="341.05" cy="423.10" r="1.2" fill="#1a1a1a"/>
<circle cx="344.90" cy="423.10" r="1.2" fill="#1a1a1a"/>
<circle cx="348.75" cy="423.10" r="1.2" fill="#1a1a1a"/>
<path d="M292.50,438.10 V436.20 H361.80 V438.10" fill="none" stroke="#222" stroke-width="1.4"/>
<circle cx="323.05" cy="431.50" r="1.2" fill="#1a1a1a"/>
<circle cx="326.90" cy="431.50" r="1.2" fill="#1a1a1a"/>
<circle cx="330.75" cy="431.50" r="1.2" fill="#1a1a1a"/>
<path d="M364.60,438.10 V436.20 H433.50 V438.10" fill="none" stroke="#222" stroke-width="1.4"/>
<text x="399.20" y="433.60" font-size="8.8" text-anchor="middle" font-weight="normal" fill="#1a1a1a" >NS</text>
<path d="M437.10,438.10 V436.20 H451.70 V438.10" fill="none" stroke="#222" stroke-width="1.4"/>
<circle cx="444.40" cy="431.00" r="1.2" fill="#1a1a1a"/>
<path d="M363.50,447.70 V445.80 H380.30 V447.70" fill="none" stroke="#222" stroke-width="1.4"/>
<circle cx="368.15" cy="441.50" r="1.2" fill="#1a1a1a"/>
<circle cx="372.00" cy="441.50" r="1.2" fill="#1a1a1a"/>
<circle cx="375.85" cy="441.50" r="1.2" fill="#1a1a1a"/>
<text font-size="10.6" fill="#333" text-anchor="middle" transform="translate(253.8 499.6) rotate(-90) scale(0.87 1)">IL-4 (pg/mL)</text>
<text font-size="9.2" fill="#333" text-anchor="end" transform="translate(296.95 565.80) rotate(-45) scale(0.9 1)">NKT</text>
<text font-size="9.2" fill="#333" text-anchor="end" transform="translate(314.10 565.80) rotate(-45) scale(0.9 1)">NKT+&#945;-GalCer</text>
<text font-size="9.2" fill="#333" text-anchor="end" transform="translate(337.10 565.80) rotate(-45) scale(0.9 1)">DC</text>
<text font-size="9.2" fill="#333" text-anchor="end" transform="translate(353.55 565.80) rotate(-45) scale(0.9 1)">DC+&#945;-GalCer</text>
<text font-size="9.2" fill="#333" text-anchor="end" transform="translate(369.75 565.80) rotate(-45) scale(0.9 1)">DC+NKT</text>
<text font-size="9.2" fill="#333" text-anchor="end" transform="translate(386.50 565.80) rotate(-45) scale(0.9 1)">NKT+DC+&#945;-GalCer</text>
<text font-size="9.2" fill="#333" text-anchor="end" transform="translate(409.10 565.80) rotate(-45) scale(0.9 1)">DC</text>
<text font-size="9.2" fill="#333" text-anchor="end" transform="translate(425.75 565.80) rotate(-45) scale(0.9 1)">DC+&#945;-GalCer</text>
<text font-size="9.2" fill="#333" text-anchor="end" transform="translate(442.25 565.80) rotate(-45) scale(0.9 1)">DC+NKT</text>
<text font-size="9.2" fill="#333" text-anchor="end" transform="translate(458.50 565.80) rotate(-45) scale(0.9 1)">NKT+DC+&#945;-GalCer</text>
<path d="M326.00,620.20 V622.20 H387.80 V620.20" fill="none" stroke="#222" stroke-width="1.3"/>
<path d="M399.20,620.20 V622.20 H459.80 V620.20" fill="none" stroke="#222" stroke-width="1.3"/>
<text x="357.10" y="633.00" font-size="8.3" text-anchor="middle" font-weight="normal" fill="#333" >UNT DC</text>
<text x="428.80" y="633.00" font-size="8.3" text-anchor="middle" font-weight="normal" fill="#333" >TLI&#160;&#160;DC</text>
</svg></body></html>
